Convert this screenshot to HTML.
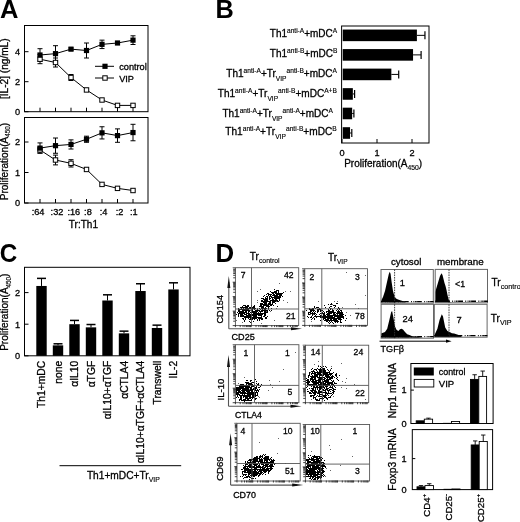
<!DOCTYPE html>
<html><head><meta charset="utf-8"><style>html,body{margin:0;padding:0;background:#fff;}svg{display:block;will-change:transform;}text{font-family:"Liberation Sans",sans-serif;stroke:#000;stroke-width:0.3px;}text[font-weight=bold]{stroke:none;}</style></head>
<body><svg width="520" height="522" viewBox="0 0 520 522" font-family="Liberation Sans, sans-serif" fill="#000"><text transform="translate(0.0 17.8) scale(1.0 1.0)" font-size="25.5" font-weight="bold">A</text>
<rect x="24.50" y="25.50" width="123.50" height="86.20" fill="none" stroke="#000" stroke-width="1"/>
<line x1="24.50" y1="111.70" x2="28.50" y2="111.70" stroke="#000" stroke-width="1" />
<text x="20.2" y="115.0" font-size="9.2" text-anchor="end" >0</text>
<line x1="24.50" y1="81.70" x2="28.50" y2="81.70" stroke="#000" stroke-width="1" />
<text x="20.2" y="85.0" font-size="9.2" text-anchor="end" >2</text>
<line x1="24.50" y1="51.70" x2="28.50" y2="51.70" stroke="#000" stroke-width="1" />
<text x="20.2" y="55.0" font-size="9.2" text-anchor="end" >4</text>
<line x1="40.00" y1="111.70" x2="40.00" y2="107.70" stroke="#000" stroke-width="1" />
<line x1="55.50" y1="111.70" x2="55.50" y2="107.70" stroke="#000" stroke-width="1" />
<line x1="71.00" y1="111.70" x2="71.00" y2="107.70" stroke="#000" stroke-width="1" />
<line x1="86.50" y1="111.70" x2="86.50" y2="107.70" stroke="#000" stroke-width="1" />
<line x1="102.00" y1="111.70" x2="102.00" y2="107.70" stroke="#000" stroke-width="1" />
<line x1="117.50" y1="111.70" x2="117.50" y2="107.70" stroke="#000" stroke-width="1" />
<line x1="133.00" y1="111.70" x2="133.00" y2="107.70" stroke="#000" stroke-width="1" />
<polyline fill="none" stroke="#000" stroke-width="1" points="40,59.20 55.5,62.50 71,77.50 86.5,89.95 102,100.00 117.5,105.40 133,105.40"/>
<polyline fill="none" stroke="#000" stroke-width="1" points="40,55.00 55.5,53.65 71,49.15 86.5,50.50 102,44.35 117.5,43.00 133,40.15"/>
<line x1="40.00" y1="63.70" x2="40.00" y2="54.70" stroke="#000" stroke-width="1" />
<line x1="37.50" y1="63.70" x2="42.50" y2="63.70" stroke="#000" stroke-width="1" />
<line x1="37.50" y1="54.70" x2="42.50" y2="54.70" stroke="#000" stroke-width="1" />
<line x1="55.50" y1="67.00" x2="55.50" y2="58.00" stroke="#000" stroke-width="1" />
<line x1="53.00" y1="67.00" x2="58.00" y2="67.00" stroke="#000" stroke-width="1" />
<line x1="53.00" y1="58.00" x2="58.00" y2="58.00" stroke="#000" stroke-width="1" />
<line x1="71.00" y1="80.50" x2="71.00" y2="74.50" stroke="#000" stroke-width="1" />
<line x1="68.50" y1="80.50" x2="73.50" y2="80.50" stroke="#000" stroke-width="1" />
<line x1="68.50" y1="74.50" x2="73.50" y2="74.50" stroke="#000" stroke-width="1" />
<line x1="40.00" y1="61.30" x2="40.00" y2="48.70" stroke="#000" stroke-width="1" />
<line x1="37.50" y1="61.30" x2="42.50" y2="61.30" stroke="#000" stroke-width="1" />
<line x1="37.50" y1="48.70" x2="42.50" y2="48.70" stroke="#000" stroke-width="1" />
<line x1="55.50" y1="61.60" x2="55.50" y2="45.70" stroke="#000" stroke-width="1" />
<line x1="53.00" y1="61.60" x2="58.00" y2="61.60" stroke="#000" stroke-width="1" />
<line x1="53.00" y1="45.70" x2="58.00" y2="45.70" stroke="#000" stroke-width="1" />
<line x1="71.00" y1="50.35" x2="71.00" y2="47.95" stroke="#000" stroke-width="1" />
<line x1="68.50" y1="50.35" x2="73.50" y2="50.35" stroke="#000" stroke-width="1" />
<line x1="68.50" y1="47.95" x2="73.50" y2="47.95" stroke="#000" stroke-width="1" />
<line x1="86.50" y1="58.00" x2="86.50" y2="43.00" stroke="#000" stroke-width="1" />
<line x1="84.00" y1="58.00" x2="89.00" y2="58.00" stroke="#000" stroke-width="1" />
<line x1="84.00" y1="43.00" x2="89.00" y2="43.00" stroke="#000" stroke-width="1" />
<line x1="102.00" y1="48.55" x2="102.00" y2="40.15" stroke="#000" stroke-width="1" />
<line x1="99.50" y1="48.55" x2="104.50" y2="48.55" stroke="#000" stroke-width="1" />
<line x1="99.50" y1="40.15" x2="104.50" y2="40.15" stroke="#000" stroke-width="1" />
<line x1="117.50" y1="44.20" x2="117.50" y2="41.80" stroke="#000" stroke-width="1" />
<line x1="115.00" y1="44.20" x2="120.00" y2="44.20" stroke="#000" stroke-width="1" />
<line x1="115.00" y1="41.80" x2="120.00" y2="41.80" stroke="#000" stroke-width="1" />
<line x1="133.00" y1="44.50" x2="133.00" y2="35.80" stroke="#000" stroke-width="1" />
<line x1="130.50" y1="44.50" x2="135.50" y2="44.50" stroke="#000" stroke-width="1" />
<line x1="130.50" y1="35.80" x2="135.50" y2="35.80" stroke="#000" stroke-width="1" />
<rect x="37.80" y="57.00" width="4.40" height="4.40" fill="#fff" stroke="#000" stroke-width="1"/>
<rect x="53.30" y="60.30" width="4.40" height="4.40" fill="#fff" stroke="#000" stroke-width="1"/>
<rect x="68.80" y="75.30" width="4.40" height="4.40" fill="#fff" stroke="#000" stroke-width="1"/>
<rect x="84.30" y="87.75" width="4.40" height="4.40" fill="#fff" stroke="#000" stroke-width="1"/>
<rect x="99.80" y="97.80" width="4.40" height="4.40" fill="#fff" stroke="#000" stroke-width="1"/>
<rect x="115.30" y="103.20" width="4.40" height="4.40" fill="#fff" stroke="#000" stroke-width="1"/>
<rect x="130.80" y="103.20" width="4.40" height="4.40" fill="#fff" stroke="#000" stroke-width="1"/>
<rect x="37.40" y="52.40" width="5.20" height="5.20" fill="#000"/>
<rect x="52.90" y="51.05" width="5.20" height="5.20" fill="#000"/>
<rect x="68.40" y="46.55" width="5.20" height="5.20" fill="#000"/>
<rect x="83.90" y="47.90" width="5.20" height="5.20" fill="#000"/>
<rect x="99.40" y="41.75" width="5.20" height="5.20" fill="#000"/>
<rect x="114.90" y="40.40" width="5.20" height="5.20" fill="#000"/>
<rect x="130.40" y="37.55" width="5.20" height="5.20" fill="#000"/>
<rect x="24.50" y="117.50" width="123.50" height="85.50" fill="none" stroke="#000" stroke-width="1"/>
<line x1="24.50" y1="203.00" x2="28.50" y2="203.00" stroke="#000" stroke-width="1" />
<text x="20.2" y="206.3" font-size="9.2" text-anchor="end" >0</text>
<line x1="24.50" y1="172.50" x2="28.50" y2="172.50" stroke="#000" stroke-width="1" />
<text x="20.2" y="175.8" font-size="9.2" text-anchor="end" >1</text>
<line x1="24.50" y1="142.00" x2="28.50" y2="142.00" stroke="#000" stroke-width="1" />
<text x="20.2" y="145.3" font-size="9.2" text-anchor="end" >2</text>
<line x1="40.00" y1="203.00" x2="40.00" y2="199.00" stroke="#000" stroke-width="1" />
<line x1="55.50" y1="203.00" x2="55.50" y2="199.00" stroke="#000" stroke-width="1" />
<line x1="71.00" y1="203.00" x2="71.00" y2="199.00" stroke="#000" stroke-width="1" />
<line x1="86.50" y1="203.00" x2="86.50" y2="199.00" stroke="#000" stroke-width="1" />
<line x1="102.00" y1="203.00" x2="102.00" y2="199.00" stroke="#000" stroke-width="1" />
<line x1="117.50" y1="203.00" x2="117.50" y2="199.00" stroke="#000" stroke-width="1" />
<line x1="133.00" y1="203.00" x2="133.00" y2="199.00" stroke="#000" stroke-width="1" />
<polyline fill="none" stroke="#000" stroke-width="1" points="40,149.93 55.5,160.00 71,163.35 86.5,169.45 102,184.40 117.5,188.36 133,190.50"/>
<polyline fill="none" stroke="#000" stroke-width="1" points="40,148.10 55.5,145.66 71,144.44 86.5,139.25 102,132.85 117.5,135.59 133,132.55"/>
<line x1="40.00" y1="152.98" x2="40.00" y2="146.88" stroke="#000" stroke-width="1" />
<line x1="37.50" y1="152.98" x2="42.50" y2="152.98" stroke="#000" stroke-width="1" />
<line x1="37.50" y1="146.88" x2="42.50" y2="146.88" stroke="#000" stroke-width="1" />
<line x1="55.50" y1="164.88" x2="55.50" y2="155.12" stroke="#000" stroke-width="1" />
<line x1="53.00" y1="164.88" x2="58.00" y2="164.88" stroke="#000" stroke-width="1" />
<line x1="53.00" y1="155.12" x2="58.00" y2="155.12" stroke="#000" stroke-width="1" />
<line x1="71.00" y1="167.01" x2="71.00" y2="159.69" stroke="#000" stroke-width="1" />
<line x1="68.50" y1="167.01" x2="73.50" y2="167.01" stroke="#000" stroke-width="1" />
<line x1="68.50" y1="159.69" x2="73.50" y2="159.69" stroke="#000" stroke-width="1" />
<line x1="40.00" y1="153.28" x2="40.00" y2="142.91" stroke="#000" stroke-width="1" />
<line x1="37.50" y1="153.28" x2="42.50" y2="153.28" stroke="#000" stroke-width="1" />
<line x1="37.50" y1="142.91" x2="42.50" y2="142.91" stroke="#000" stroke-width="1" />
<line x1="55.50" y1="153.28" x2="55.50" y2="138.03" stroke="#000" stroke-width="1" />
<line x1="53.00" y1="153.28" x2="58.00" y2="153.28" stroke="#000" stroke-width="1" />
<line x1="53.00" y1="138.03" x2="58.00" y2="138.03" stroke="#000" stroke-width="1" />
<line x1="71.00" y1="149.01" x2="71.00" y2="139.87" stroke="#000" stroke-width="1" />
<line x1="68.50" y1="149.01" x2="73.50" y2="149.01" stroke="#000" stroke-width="1" />
<line x1="68.50" y1="139.87" x2="73.50" y2="139.87" stroke="#000" stroke-width="1" />
<line x1="86.50" y1="142.31" x2="86.50" y2="136.20" stroke="#000" stroke-width="1" />
<line x1="84.00" y1="142.31" x2="89.00" y2="142.31" stroke="#000" stroke-width="1" />
<line x1="84.00" y1="136.20" x2="89.00" y2="136.20" stroke="#000" stroke-width="1" />
<line x1="102.00" y1="138.95" x2="102.00" y2="126.75" stroke="#000" stroke-width="1" />
<line x1="99.50" y1="138.95" x2="104.50" y2="138.95" stroke="#000" stroke-width="1" />
<line x1="99.50" y1="126.75" x2="104.50" y2="126.75" stroke="#000" stroke-width="1" />
<line x1="117.50" y1="142.31" x2="117.50" y2="128.88" stroke="#000" stroke-width="1" />
<line x1="115.00" y1="142.31" x2="120.00" y2="142.31" stroke="#000" stroke-width="1" />
<line x1="115.00" y1="128.88" x2="120.00" y2="128.88" stroke="#000" stroke-width="1" />
<line x1="133.00" y1="140.78" x2="133.00" y2="124.31" stroke="#000" stroke-width="1" />
<line x1="130.50" y1="140.78" x2="135.50" y2="140.78" stroke="#000" stroke-width="1" />
<line x1="130.50" y1="124.31" x2="135.50" y2="124.31" stroke="#000" stroke-width="1" />
<rect x="37.80" y="147.73" width="4.40" height="4.40" fill="#fff" stroke="#000" stroke-width="1"/>
<rect x="53.30" y="157.80" width="4.40" height="4.40" fill="#fff" stroke="#000" stroke-width="1"/>
<rect x="68.80" y="161.15" width="4.40" height="4.40" fill="#fff" stroke="#000" stroke-width="1"/>
<rect x="84.30" y="167.25" width="4.40" height="4.40" fill="#fff" stroke="#000" stroke-width="1"/>
<rect x="99.80" y="182.20" width="4.40" height="4.40" fill="#fff" stroke="#000" stroke-width="1"/>
<rect x="115.30" y="186.16" width="4.40" height="4.40" fill="#fff" stroke="#000" stroke-width="1"/>
<rect x="130.80" y="188.30" width="4.40" height="4.40" fill="#fff" stroke="#000" stroke-width="1"/>
<rect x="37.40" y="145.50" width="5.20" height="5.20" fill="#000"/>
<rect x="52.90" y="143.06" width="5.20" height="5.20" fill="#000"/>
<rect x="68.40" y="141.84" width="5.20" height="5.20" fill="#000"/>
<rect x="83.90" y="136.66" width="5.20" height="5.20" fill="#000"/>
<rect x="99.40" y="130.25" width="5.20" height="5.20" fill="#000"/>
<rect x="114.90" y="133.00" width="5.20" height="5.20" fill="#000"/>
<rect x="130.40" y="129.95" width="5.20" height="5.20" fill="#000"/>
<line x1="95.00" y1="66.30" x2="114.00" y2="66.30" stroke="#000" stroke-width="1" />
<rect x="102.40" y="63.70" width="5.20" height="5.20" fill="#000"/>
<text x="119.2" y="69.8" font-size="9.2" >control</text>
<line x1="95.00" y1="78.00" x2="114.00" y2="78.00" stroke="#000" stroke-width="1" />
<rect x="102.80" y="75.80" width="4.40" height="4.40" fill="#fff" stroke="#000" stroke-width="1"/>
<text x="119.2" y="81.5" font-size="9.2" >VIP</text>
<text x="31.7" y="214.7" font-size="9.2" >:64</text>
<text x="50.6" y="214.7" font-size="9.2" >:32</text>
<text x="67.4" y="214.7" font-size="9.2" >:16</text>
<text x="84.10000000000001" y="214.7" font-size="9.2" >:8</text>
<text x="99.7" y="214.7" font-size="9.2" >:4</text>
<text x="115.8" y="214.7" font-size="9.2" >:2</text>
<text x="129.89999999999998" y="214.7" font-size="9.2" >:1</text>
<text x="83.4" y="227.5" font-size="10" text-anchor="middle" >Tr:Th1</text>
<text x="7.8" y="68.7" font-size="10.1" text-anchor="middle" transform="rotate(-90 7.8 68.7)" >[IL-2] (ng/mL)</text>
<text x="7.8" y="161.6" font-size="10" text-anchor="middle" transform="rotate(-90 7.8 161.6)" ><tspan font-size="10">Proliferation(A</tspan><tspan font-size="6.3" dy="2.6" stroke-width="0.15">450</tspan><tspan font-size="10" dy="-2.6">)</tspan></text>
<text transform="translate(215.6 17.7) scale(1.0 1.0)" font-size="25.3" font-weight="bold">B</text>
<rect x="341.60" y="26.00" width="87.40" height="117.00" fill="none" stroke="#000" stroke-width="1"/>
<rect x="342.70" y="29.55" width="74.20" height="11.60" fill="#000"/>
<line x1="416.90" y1="35.35" x2="424.95" y2="35.35" stroke="#000" stroke-width="1" />
<line x1="424.95" y1="31.35" x2="424.95" y2="39.35" stroke="#000" stroke-width="1.2" />
<rect x="342.70" y="49.08" width="70.35" height="11.60" fill="#000"/>
<line x1="413.05" y1="54.88" x2="421.10" y2="54.88" stroke="#000" stroke-width="1" />
<line x1="421.10" y1="50.88" x2="421.10" y2="58.88" stroke="#000" stroke-width="1.2" />
<rect x="342.70" y="68.61" width="48.65" height="11.60" fill="#000"/>
<line x1="391.35" y1="74.41" x2="398.70" y2="74.41" stroke="#000" stroke-width="1" />
<line x1="398.70" y1="70.41" x2="398.70" y2="78.41" stroke="#000" stroke-width="1.2" />
<rect x="342.70" y="88.14" width="10.15" height="11.60" fill="#000"/>
<line x1="352.85" y1="93.94" x2="354.60" y2="93.94" stroke="#000" stroke-width="1" />
<line x1="354.60" y1="89.94" x2="354.60" y2="97.94" stroke="#000" stroke-width="1.2" />
<rect x="342.70" y="107.67" width="9.45" height="11.60" fill="#000"/>
<line x1="352.15" y1="113.47" x2="353.90" y2="113.47" stroke="#000" stroke-width="1" />
<line x1="353.90" y1="109.47" x2="353.90" y2="117.47" stroke="#000" stroke-width="1.2" />
<rect x="342.70" y="127.20" width="7.35" height="11.60" fill="#000"/>
<line x1="350.05" y1="133.00" x2="351.80" y2="133.00" stroke="#000" stroke-width="1" />
<line x1="351.80" y1="129.00" x2="351.80" y2="137.00" stroke="#000" stroke-width="1.2" />
<line x1="342.00" y1="143.00" x2="342.00" y2="139.00" stroke="#000" stroke-width="1" />
<text x="342" y="155.8" font-size="9.2" text-anchor="middle" >0</text>
<line x1="377.00" y1="143.00" x2="377.00" y2="139.00" stroke="#000" stroke-width="1" />
<text x="377" y="155.8" font-size="9.2" text-anchor="middle" >1</text>
<line x1="412.00" y1="143.00" x2="412.00" y2="139.00" stroke="#000" stroke-width="1" />
<text x="412" y="155.8" font-size="9.2" text-anchor="middle" >2</text>
<text x="344.2" y="167" font-size="10" textLength="78" lengthAdjust="spacingAndGlyphs"><tspan font-size="10">Proliferation(A</tspan><tspan font-size="6.8" dy="2.6" stroke-width="0.15">450</tspan><tspan font-size="10" dy="-2.6">)</tspan></text>
<text x="269.8" y="36.8" font-size="10" textLength="67.4" lengthAdjust="spacingAndGlyphs"><tspan font-size="10">Th1</tspan><tspan font-size="6.6" dy="-4.0" stroke-width="0.15">anti-A</tspan><tspan font-size="10" dy="4.0">+mDC</tspan><tspan font-size="6.6" dy="-4.0" stroke-width="0.15">A</tspan></text>
<text x="269.8" y="56.8" font-size="10" textLength="67.6" lengthAdjust="spacingAndGlyphs"><tspan font-size="10">Th1</tspan><tspan font-size="6.6" dy="-4.0" stroke-width="0.15">anti-B</tspan><tspan font-size="10" dy="4.0">+mDC</tspan><tspan font-size="6.6" dy="-4.0" stroke-width="0.15">B</tspan></text>
<text x="226.3" y="76.9" font-size="10" textLength="110.7" lengthAdjust="spacingAndGlyphs"><tspan font-size="10">Th1</tspan><tspan font-size="6.6" dy="-4.0" stroke-width="0.15">anti-A</tspan><tspan font-size="10" dy="4.0">+Tr</tspan><tspan font-size="6.6" dy="3.6" stroke-width="0.15">VIP</tspan><tspan font-size="6.6" dy="-7.6" stroke-width="0.15">anti-B</tspan><tspan font-size="10" dy="4.0">+mDC</tspan><tspan font-size="6.6" dy="-4.0" stroke-width="0.15">A</tspan></text>
<text x="217.8" y="96.9" font-size="10" textLength="119.1" lengthAdjust="spacingAndGlyphs"><tspan font-size="10">Th1</tspan><tspan font-size="6.6" dy="-4.0" stroke-width="0.15">anti-A</tspan><tspan font-size="10" dy="4.0">+Tr</tspan><tspan font-size="6.6" dy="3.6" stroke-width="0.15">VIP</tspan><tspan font-size="6.6" dy="-7.6" stroke-width="0.15">anti-B</tspan><tspan font-size="10" dy="4.0">+mDC</tspan><tspan font-size="6.6" dy="-4.0" stroke-width="0.15">A+B</tspan></text>
<text x="222.4" y="117.3" font-size="10" textLength="110.5" lengthAdjust="spacingAndGlyphs"><tspan font-size="10">Th1</tspan><tspan font-size="6.6" dy="-4.0" stroke-width="0.15">anti-A</tspan><tspan font-size="10" dy="4.0">+Tr</tspan><tspan font-size="6.6" dy="3.6" stroke-width="0.15">VIP</tspan><tspan font-size="6.6" dy="-7.6" stroke-width="0.15">anti-A</tspan><tspan font-size="10" dy="4.0">+mDC</tspan><tspan font-size="6.6" dy="-4.0" stroke-width="0.15">A</tspan></text>
<text x="225.3" y="135.3" font-size="10" textLength="111.4" lengthAdjust="spacingAndGlyphs"><tspan font-size="10">Th1</tspan><tspan font-size="6.6" dy="-4.0" stroke-width="0.15">anti-A</tspan><tspan font-size="10" dy="4.0">+Tr</tspan><tspan font-size="6.6" dy="3.6" stroke-width="0.15">VIP</tspan><tspan font-size="6.6" dy="-7.6" stroke-width="0.15">anti-B</tspan><tspan font-size="10" dy="4.0">+mDC</tspan><tspan font-size="6.6" dy="-4.0" stroke-width="0.15">B</tspan></text>
<text transform="translate(-0.3 261.8) scale(0.95 1.0)" font-size="25.5" font-weight="bold">C</text>
<rect x="24.50" y="267.30" width="165.50" height="88.50" fill="none" stroke="#000" stroke-width="1"/>
<line x1="24.50" y1="355.80" x2="28.50" y2="355.80" stroke="#000" stroke-width="1" />
<text x="20.2" y="359.1" font-size="9.2" text-anchor="end" >0</text>
<line x1="24.50" y1="324.20" x2="28.50" y2="324.20" stroke="#000" stroke-width="1" />
<text x="20.2" y="327.5" font-size="9.2" text-anchor="end" >1</text>
<line x1="24.50" y1="292.60" x2="28.50" y2="292.60" stroke="#000" stroke-width="1" />
<text x="20.2" y="295.90000000000003" font-size="9.2" text-anchor="end" >2</text>
<rect x="36.30" y="285.96" width="10.40" height="69.84" fill="#000"/>
<line x1="41.50" y1="285.96" x2="41.50" y2="278.38" stroke="#000" stroke-width="1" />
<line x1="37.00" y1="278.38" x2="46.00" y2="278.38" stroke="#000" stroke-width="1.5" />
<text x="45.4" y="360.8" font-size="10.3" text-anchor="end" transform="rotate(-90 45.4 360.8)" >Th1+mDC</text>
<rect x="52.80" y="345.37" width="10.40" height="10.43" fill="#000"/>
<line x1="58.00" y1="345.37" x2="58.00" y2="343.79" stroke="#000" stroke-width="1" />
<line x1="53.50" y1="343.79" x2="62.50" y2="343.79" stroke="#000" stroke-width="1.5" />
<text x="61.9" y="360.8" font-size="10.3" text-anchor="end" transform="rotate(-90 61.9 360.8)" >none</text>
<rect x="69.30" y="324.20" width="10.40" height="31.60" fill="#000"/>
<line x1="74.50" y1="324.20" x2="74.50" y2="320.41" stroke="#000" stroke-width="1" />
<line x1="70.00" y1="320.41" x2="79.00" y2="320.41" stroke="#000" stroke-width="1.5" />
<text x="78.4" y="360.8" font-size="10.3" text-anchor="end" transform="rotate(-90 78.4 360.8)" >&#945;IL10</text>
<rect x="85.80" y="327.36" width="10.40" height="28.44" fill="#000"/>
<line x1="91.00" y1="327.36" x2="91.00" y2="324.52" stroke="#000" stroke-width="1" />
<line x1="86.50" y1="324.52" x2="95.50" y2="324.52" stroke="#000" stroke-width="1.5" />
<text x="94.9" y="360.8" font-size="10.3" text-anchor="end" transform="rotate(-90 94.9 360.8)" >&#945;TGF</text>
<rect x="102.30" y="300.50" width="10.40" height="55.30" fill="#000"/>
<line x1="107.50" y1="300.50" x2="107.50" y2="294.81" stroke="#000" stroke-width="1" />
<line x1="103.00" y1="294.81" x2="112.00" y2="294.81" stroke="#000" stroke-width="1.5" />
<text x="111.4" y="360.8" font-size="10.3" text-anchor="end" transform="rotate(-90 111.4 360.8)" >&#945;IL10+&#945;TGF</text>
<rect x="118.80" y="333.36" width="10.40" height="22.44" fill="#000"/>
<line x1="124.00" y1="333.36" x2="124.00" y2="331.15" stroke="#000" stroke-width="1" />
<line x1="119.50" y1="331.15" x2="128.50" y2="331.15" stroke="#000" stroke-width="1.5" />
<text x="127.9" y="360.8" font-size="10.3" text-anchor="end" transform="rotate(-90 127.9 360.8)" >&#945;CTLA4</text>
<rect x="135.30" y="291.02" width="10.40" height="64.78" fill="#000"/>
<line x1="140.50" y1="291.02" x2="140.50" y2="283.75" stroke="#000" stroke-width="1" />
<line x1="136.00" y1="283.75" x2="145.00" y2="283.75" stroke="#000" stroke-width="1.5" />
<text x="144.4" y="360.8" font-size="10.3" text-anchor="end" transform="rotate(-90 144.4 360.8)" >&#945;IL10+&#945;TGF+&#945;CTLA4</text>
<rect x="151.80" y="327.99" width="10.40" height="27.81" fill="#000"/>
<line x1="157.00" y1="327.99" x2="157.00" y2="325.15" stroke="#000" stroke-width="1" />
<line x1="152.50" y1="325.15" x2="161.50" y2="325.15" stroke="#000" stroke-width="1.5" />
<text x="160.9" y="360.8" font-size="10.3" text-anchor="end" transform="rotate(-90 160.9 360.8)" >Transwell</text>
<rect x="168.30" y="289.44" width="10.40" height="66.36" fill="#000"/>
<line x1="173.50" y1="289.44" x2="173.50" y2="282.80" stroke="#000" stroke-width="1" />
<line x1="169.00" y1="282.80" x2="178.00" y2="282.80" stroke="#000" stroke-width="1.5" />
<text x="177.4" y="360.8" font-size="10.3" text-anchor="end" transform="rotate(-90 177.4 360.8)" >IL-2</text>
<text x="8.4" y="312.2" font-size="10" text-anchor="middle" transform="rotate(-90 8.4 312.2)" ><tspan font-size="10">Proliferation(A</tspan><tspan font-size="6.3" dy="2.6" stroke-width="0.15">450</tspan><tspan font-size="10" dy="-2.6">)</tspan></text>
<line x1="59.50" y1="465.70" x2="181.20" y2="465.70" stroke="#000" stroke-width="1" />
<text x="86.9" y="478.7" font-size="10" textLength="73" lengthAdjust="spacingAndGlyphs"><tspan font-size="10">Th1+mDC+Tr</tspan><tspan font-size="6.8" dy="3.2" stroke-width="0.15">VIP</tspan></text>
<text transform="translate(215.5 261.8) scale(1.0 1.0)" font-size="25.8" font-weight="bold">D</text>
<text x="249.8" y="259.5" font-size="9.7"><tspan font-size="10">Tr</tspan><tspan font-size="6.9" dy="3.0" stroke-width="0.15">control</tspan></text>
<text x="327.9" y="260.5" font-size="9.5"><tspan font-size="10">Tr</tspan><tspan font-size="6.6" dy="3.1" stroke-width="0.15">VIP</tspan></text>
<path fill="#666" d="M236 320h1v1h-1zM242 322h1v1h-1zM250 310h1v1h-1zM257 291h1v1h-1zM257 300h1v1h-1zM257 302h1v1h-1zM257 308h1v1h-1zM260 289h1v1h-1zM261 323h1v1h-1zM265 304h1v1h-1zM265 311h1v1h-1zM265 312h1v1h-1zM266 302h1v1h-1zM266 311h1v1h-1zM267 304h1v1h-1zM268 304h1v1h-1zM268 306h1v1h-1zM268 309h1v1h-1zM270 311h1v1h-1zM272 302h1v1h-1zM274 301h1v1h-1zM274 320h1v1h-1zM276 295h1v1h-1zM276 301h1v1h-1zM276 308h1v1h-1zM279 283h1v1h-1zM283 300h1v1h-1zM285 291h1v1h-1zM287 302h1v1h-1zM290 291h1v1h-1z"/>
<path fill="#000" d="M236 314h1v1h-1zM237 312h1v1h-1zM238 308h1v1h-1zM238 309h1v1h-1zM238 310h1v1h-1zM238 311h1v1h-1zM238 313h1v1h-1zM238 314h1v1h-1zM238 315h1v1h-1zM238 316h1v1h-1zM239 309h1v1h-1zM239 310h1v1h-1zM239 311h1v1h-1zM239 312h1v1h-1zM239 313h1v1h-1zM240 307h1v1h-1zM240 309h1v1h-1zM240 311h1v1h-1zM240 312h1v1h-1zM240 313h1v1h-1zM240 314h1v1h-1zM240 315h1v1h-1zM240 316h1v1h-1zM241 307h1v1h-1zM241 308h1v1h-1zM241 309h1v1h-1zM241 311h1v1h-1zM241 312h1v1h-1zM241 313h1v1h-1zM241 314h1v1h-1zM241 315h1v1h-1zM241 316h1v1h-1zM242 306h1v1h-1zM242 307h1v1h-1zM242 309h1v1h-1zM242 310h1v1h-1zM242 311h1v1h-1zM242 312h1v1h-1zM242 313h1v1h-1zM242 314h1v1h-1zM242 315h1v1h-1zM242 316h1v1h-1zM242 318h1v1h-1zM243 305h1v1h-1zM243 307h1v1h-1zM243 308h1v1h-1zM243 309h1v1h-1zM243 310h1v1h-1zM243 311h1v1h-1zM243 312h1v1h-1zM243 313h1v1h-1zM243 315h1v1h-1zM243 316h1v1h-1zM243 318h1v1h-1zM243 319h1v1h-1zM244 305h1v1h-1zM244 307h1v1h-1zM244 309h1v1h-1zM244 310h1v1h-1zM244 312h1v1h-1zM244 313h1v1h-1zM244 314h1v1h-1zM244 316h1v1h-1zM244 317h1v1h-1zM244 320h1v1h-1zM244 321h1v1h-1zM245 305h1v1h-1zM245 306h1v1h-1zM245 307h1v1h-1zM245 308h1v1h-1zM245 309h1v1h-1zM245 310h1v1h-1zM245 311h1v1h-1zM245 312h1v1h-1zM245 314h1v1h-1zM245 316h1v1h-1zM245 317h1v1h-1zM245 318h1v1h-1zM245 319h1v1h-1zM246 306h1v1h-1zM246 307h1v1h-1zM246 308h1v1h-1zM246 309h1v1h-1zM246 310h1v1h-1zM246 311h1v1h-1zM246 312h1v1h-1zM246 313h1v1h-1zM246 314h1v1h-1zM246 315h1v1h-1zM246 316h1v1h-1zM246 317h1v1h-1zM247 305h1v1h-1zM247 306h1v1h-1zM247 307h1v1h-1zM247 308h1v1h-1zM247 309h1v1h-1zM247 310h1v1h-1zM247 313h1v1h-1zM247 315h1v1h-1zM247 316h1v1h-1zM247 317h1v1h-1zM248 305h1v1h-1zM248 306h1v1h-1zM248 308h1v1h-1zM248 309h1v1h-1zM248 310h1v1h-1zM248 311h1v1h-1zM248 312h1v1h-1zM248 313h1v1h-1zM248 314h1v1h-1zM248 315h1v1h-1zM248 316h1v1h-1zM248 317h1v1h-1zM248 318h1v1h-1zM249 307h1v1h-1zM249 308h1v1h-1zM249 310h1v1h-1zM249 311h1v1h-1zM249 313h1v1h-1zM249 314h1v1h-1zM249 315h1v1h-1zM249 316h1v1h-1zM249 317h1v1h-1zM249 319h1v1h-1zM249 321h1v1h-1zM250 307h1v1h-1zM250 308h1v1h-1zM250 312h1v1h-1zM250 314h1v1h-1zM250 315h1v1h-1zM250 316h1v1h-1zM250 317h1v1h-1zM250 318h1v1h-1zM250 319h1v1h-1zM250 322h1v1h-1zM251 305h1v1h-1zM251 306h1v1h-1zM251 308h1v1h-1zM251 309h1v1h-1zM251 310h1v1h-1zM251 312h1v1h-1zM251 313h1v1h-1zM251 314h1v1h-1zM251 315h1v1h-1zM251 316h1v1h-1zM251 317h1v1h-1zM251 318h1v1h-1zM251 319h1v1h-1zM252 307h1v1h-1zM252 308h1v1h-1zM252 309h1v1h-1zM252 310h1v1h-1zM252 311h1v1h-1zM252 312h1v1h-1zM252 314h1v1h-1zM252 315h1v1h-1zM252 317h1v1h-1zM252 318h1v1h-1zM252 319h1v1h-1zM253 306h1v1h-1zM253 307h1v1h-1zM253 308h1v1h-1zM253 311h1v1h-1zM253 312h1v1h-1zM253 313h1v1h-1zM253 314h1v1h-1zM253 315h1v1h-1zM253 316h1v1h-1zM253 317h1v1h-1zM253 318h1v1h-1zM253 321h1v1h-1zM254 305h1v1h-1zM254 306h1v1h-1zM254 307h1v1h-1zM254 308h1v1h-1zM254 309h1v1h-1zM254 311h1v1h-1zM254 312h1v1h-1zM254 313h1v1h-1zM254 314h1v1h-1zM254 315h1v1h-1zM254 316h1v1h-1zM254 317h1v1h-1zM254 318h1v1h-1zM254 319h1v1h-1zM255 308h1v1h-1zM255 310h1v1h-1zM255 311h1v1h-1zM255 312h1v1h-1zM255 313h1v1h-1zM255 314h1v1h-1zM255 315h1v1h-1zM255 316h1v1h-1zM255 317h1v1h-1zM255 318h1v1h-1zM256 310h1v1h-1zM256 311h1v1h-1zM256 312h1v1h-1zM256 313h1v1h-1zM256 314h1v1h-1zM256 315h1v1h-1zM256 316h1v1h-1zM256 317h1v1h-1zM256 318h1v1h-1zM257 309h1v1h-1zM257 310h1v1h-1zM257 311h1v1h-1zM257 313h1v1h-1zM257 314h1v1h-1zM257 317h1v1h-1zM257 319h1v1h-1zM257 320h1v1h-1zM258 310h1v1h-1zM258 312h1v1h-1zM258 313h1v1h-1zM258 314h1v1h-1zM258 315h1v1h-1zM258 317h1v1h-1zM258 318h1v1h-1zM259 306h1v1h-1zM259 308h1v1h-1zM259 310h1v1h-1zM259 311h1v1h-1zM259 313h1v1h-1zM259 314h1v1h-1zM259 315h1v1h-1zM259 317h1v1h-1zM259 318h1v1h-1zM259 319h1v1h-1zM259 320h1v1h-1zM260 303h1v1h-1zM260 304h1v1h-1zM260 305h1v1h-1zM260 306h1v1h-1zM260 309h1v1h-1zM260 311h1v1h-1zM260 312h1v1h-1zM260 313h1v1h-1zM260 314h1v1h-1zM260 315h1v1h-1zM260 317h1v1h-1zM260 318h1v1h-1zM261 298h1v1h-1zM261 300h1v1h-1zM261 301h1v1h-1zM261 303h1v1h-1zM261 304h1v1h-1zM261 305h1v1h-1zM261 306h1v1h-1zM261 307h1v1h-1zM261 308h1v1h-1zM261 310h1v1h-1zM261 311h1v1h-1zM261 313h1v1h-1zM261 314h1v1h-1zM261 315h1v1h-1zM261 316h1v1h-1zM261 317h1v1h-1zM261 318h1v1h-1zM261 319h1v1h-1zM262 298h1v1h-1zM262 300h1v1h-1zM262 301h1v1h-1zM262 303h1v1h-1zM262 304h1v1h-1zM262 306h1v1h-1zM262 307h1v1h-1zM262 308h1v1h-1zM262 309h1v1h-1zM262 310h1v1h-1zM262 311h1v1h-1zM262 313h1v1h-1zM262 314h1v1h-1zM262 318h1v1h-1zM262 319h1v1h-1zM263 296h1v1h-1zM263 298h1v1h-1zM263 299h1v1h-1zM263 301h1v1h-1zM263 302h1v1h-1zM263 304h1v1h-1zM263 305h1v1h-1zM263 306h1v1h-1zM263 307h1v1h-1zM263 308h1v1h-1zM263 310h1v1h-1zM263 313h1v1h-1zM263 316h1v1h-1zM264 295h1v1h-1zM264 299h1v1h-1zM264 300h1v1h-1zM264 301h1v1h-1zM264 302h1v1h-1zM264 303h1v1h-1zM264 304h1v1h-1zM264 305h1v1h-1zM264 308h1v1h-1zM264 309h1v1h-1zM264 310h1v1h-1zM264 311h1v1h-1zM264 312h1v1h-1zM264 313h1v1h-1zM264 314h1v1h-1zM264 315h1v1h-1zM264 316h1v1h-1zM265 297h1v1h-1zM265 298h1v1h-1zM265 299h1v1h-1zM265 300h1v1h-1zM265 301h1v1h-1zM265 302h1v1h-1zM265 303h1v1h-1zM265 304h1v1h-1zM265 305h1v1h-1zM265 307h1v1h-1zM265 308h1v1h-1zM265 309h1v1h-1zM265 310h1v1h-1zM265 311h1v1h-1zM265 312h1v1h-1zM265 313h1v1h-1zM265 314h1v1h-1zM265 315h1v1h-1zM265 317h1v1h-1zM265 318h1v1h-1zM266 294h1v1h-1zM266 296h1v1h-1zM266 298h1v1h-1zM266 299h1v1h-1zM266 300h1v1h-1zM266 301h1v1h-1zM266 302h1v1h-1zM266 303h1v1h-1zM266 304h1v1h-1zM266 305h1v1h-1zM266 306h1v1h-1zM266 308h1v1h-1zM266 310h1v1h-1zM266 312h1v1h-1zM266 317h1v1h-1zM266 318h1v1h-1zM267 293h1v1h-1zM267 296h1v1h-1zM267 297h1v1h-1zM267 298h1v1h-1zM267 299h1v1h-1zM267 300h1v1h-1zM267 301h1v1h-1zM267 305h1v1h-1zM267 306h1v1h-1zM267 310h1v1h-1zM267 311h1v1h-1zM267 312h1v1h-1zM267 316h1v1h-1zM268 293h1v1h-1zM268 294h1v1h-1zM268 295h1v1h-1zM268 301h1v1h-1zM268 303h1v1h-1zM268 304h1v1h-1zM268 305h1v1h-1zM268 306h1v1h-1zM268 307h1v1h-1zM268 308h1v1h-1zM269 294h1v1h-1zM269 296h1v1h-1zM269 297h1v1h-1zM269 298h1v1h-1zM269 299h1v1h-1zM269 301h1v1h-1zM269 302h1v1h-1zM269 303h1v1h-1zM269 304h1v1h-1zM269 306h1v1h-1zM269 310h1v1h-1zM270 291h1v1h-1zM270 294h1v1h-1zM270 295h1v1h-1zM270 296h1v1h-1zM270 298h1v1h-1zM270 300h1v1h-1zM270 301h1v1h-1zM270 302h1v1h-1zM270 303h1v1h-1zM270 304h1v1h-1zM270 305h1v1h-1zM271 292h1v1h-1zM271 294h1v1h-1zM271 296h1v1h-1zM271 297h1v1h-1zM271 300h1v1h-1zM271 304h1v1h-1zM271 305h1v1h-1zM271 308h1v1h-1zM271 310h1v1h-1zM272 292h1v1h-1zM272 293h1v1h-1zM272 295h1v1h-1zM272 297h1v1h-1zM272 298h1v1h-1zM272 299h1v1h-1zM272 300h1v1h-1zM272 301h1v1h-1zM272 302h1v1h-1zM272 303h1v1h-1zM272 304h1v1h-1zM273 292h1v1h-1zM273 293h1v1h-1zM273 294h1v1h-1zM273 295h1v1h-1zM273 297h1v1h-1zM273 299h1v1h-1zM273 300h1v1h-1zM273 301h1v1h-1zM273 302h1v1h-1zM273 305h1v1h-1zM274 289h1v1h-1zM274 291h1v1h-1zM274 292h1v1h-1zM274 294h1v1h-1zM274 295h1v1h-1zM274 296h1v1h-1zM274 297h1v1h-1zM274 298h1v1h-1zM274 300h1v1h-1zM274 301h1v1h-1zM274 302h1v1h-1zM275 291h1v1h-1zM275 292h1v1h-1zM275 293h1v1h-1zM275 295h1v1h-1zM275 296h1v1h-1zM275 297h1v1h-1zM275 298h1v1h-1zM275 299h1v1h-1zM275 300h1v1h-1zM275 301h1v1h-1zM275 303h1v1h-1zM276 290h1v1h-1zM276 291h1v1h-1zM276 292h1v1h-1zM276 293h1v1h-1zM276 294h1v1h-1zM276 295h1v1h-1zM276 296h1v1h-1zM276 297h1v1h-1zM276 298h1v1h-1zM276 299h1v1h-1zM276 300h1v1h-1zM277 290h1v1h-1zM277 293h1v1h-1zM277 294h1v1h-1zM277 295h1v1h-1zM277 296h1v1h-1zM277 297h1v1h-1zM277 298h1v1h-1zM277 300h1v1h-1zM277 301h1v1h-1zM277 306h1v1h-1zM278 290h1v1h-1zM278 291h1v1h-1zM278 292h1v1h-1zM278 293h1v1h-1zM278 294h1v1h-1zM278 296h1v1h-1zM278 297h1v1h-1zM278 298h1v1h-1zM278 301h1v1h-1zM279 293h1v1h-1zM279 294h1v1h-1zM279 295h1v1h-1zM279 296h1v1h-1zM279 297h1v1h-1zM279 298h1v1h-1zM279 299h1v1h-1zM279 300h1v1h-1zM280 293h1v1h-1zM280 294h1v1h-1zM280 295h1v1h-1zM280 296h1v1h-1zM280 297h1v1h-1zM281 293h1v1h-1zM281 294h1v1h-1zM281 295h1v1h-1zM282 293h1v1h-1zM282 296h1v1h-1zM283 292h1v1h-1z"/>
<rect x="235.4" y="267.7" width="63.29999999999998" height="57.900000000000034" fill="none" stroke="#555" stroke-width="0.9"/>
<line x1="232.70" y1="267.70" x2="235.40" y2="267.70" stroke="#555" stroke-width="0.9" />
<line x1="251.50" y1="267.70" x2="251.50" y2="325.60" stroke="#555" stroke-width="0.9" />
<line x1="235.40" y1="309.00" x2="298.70" y2="309.00" stroke="#555" stroke-width="0.9" />
<path fill="none" stroke="#222" stroke-width="0.85" d="M232.7 325.6h2.7M235.4 325.1v2.0M233.2 321.2h2.2M240.2 325.1v2.0M233.2 318.7h2.2M243.0 325.1v2.0M233.2 316.9h2.2M244.9 325.1v2.0M233.2 315.5h2.2M246.5 325.1v2.0M233.2 314.3h2.2M247.7 325.1v2.0M233.2 313.4h2.2M248.8 325.1v2.0M233.2 312.5h2.2M249.7 325.1v2.0M233.2 311.8h2.2M250.5 325.1v2.0M232.7 311.1h2.7M251.2 325.1v2.0M233.2 306.8h2.2M256.0 325.1v2.0M233.2 304.2h2.2M258.8 325.1v2.0M233.2 302.4h2.2M260.8 325.1v2.0M233.2 301.0h2.2M262.3 325.1v2.0M233.2 299.9h2.2M263.5 325.1v2.0M233.2 298.9h2.2M264.6 325.1v2.0M233.2 298.1h2.2M265.5 325.1v2.0M233.2 297.3h2.2M266.3 325.1v2.0M232.7 296.6h2.7M267.1 325.1v2.0M233.2 292.3h2.2M271.8 325.1v2.0M233.2 289.7h2.2M274.6 325.1v2.0M233.2 287.9h2.2M276.6 325.1v2.0M233.2 286.5h2.2M278.1 325.1v2.0M233.2 285.4h2.2M279.4 325.1v2.0M233.2 284.4h2.2M280.4 325.1v2.0M233.2 283.6h2.2M281.3 325.1v2.0M233.2 282.8h2.2M282.2 325.1v2.0M232.7 282.2h2.7M282.9 325.1v2.0M233.2 277.8h2.2M287.6 325.1v2.0M233.2 275.3h2.2M290.4 325.1v2.0M233.2 273.5h2.2M292.4 325.1v2.0M233.2 272.1h2.2M293.9 325.1v2.0M233.2 270.9h2.2M295.2 325.1v2.0M233.2 269.9h2.2M296.2 325.1v2.0M233.2 269.1h2.2M297.2 325.1v2.0"/>
<text x="243.2" y="277.8" font-size="8.6" text-anchor="middle" >7</text>
<text x="288.8" y="277.8" font-size="8.6" text-anchor="middle" >42</text>
<text x="290.8" y="318.8" font-size="8.6" text-anchor="middle" >21</text>
<path fill="#666" d="M310 314h1v1h-1zM311 321h1v1h-1zM313 314h1v1h-1zM318 301h1v1h-1zM326 311h1v1h-1zM326 317h1v1h-1zM330 311h1v1h-1zM331 308h1v1h-1zM331 320h1v1h-1zM332 304h1v1h-1zM333 311h1v1h-1zM333 317h1v1h-1zM334 301h1v1h-1zM334 313h1v1h-1zM334 315h1v1h-1zM337 301h1v1h-1zM342 307h1v1h-1zM346 272h1v1h-1zM346 312h1v1h-1zM350 315h1v1h-1zM355 304h1v1h-1zM358 308h1v1h-1zM365 275h1v1h-1zM365 295h1v1h-1z"/>
<path fill="#000" d="M306 310h1v1h-1zM307 316h1v1h-1zM308 312h1v1h-1zM308 313h1v1h-1zM308 314h1v1h-1zM308 317h1v1h-1zM309 308h1v1h-1zM309 309h1v1h-1zM309 312h1v1h-1zM309 314h1v1h-1zM310 309h1v1h-1zM310 310h1v1h-1zM310 311h1v1h-1zM310 312h1v1h-1zM310 313h1v1h-1zM310 317h1v1h-1zM311 309h1v1h-1zM311 310h1v1h-1zM311 311h1v1h-1zM311 313h1v1h-1zM311 316h1v1h-1zM311 317h1v1h-1zM311 319h1v1h-1zM312 308h1v1h-1zM312 309h1v1h-1zM312 310h1v1h-1zM312 312h1v1h-1zM312 313h1v1h-1zM312 314h1v1h-1zM312 315h1v1h-1zM312 318h1v1h-1zM313 308h1v1h-1zM313 309h1v1h-1zM313 310h1v1h-1zM313 311h1v1h-1zM313 313h1v1h-1zM313 317h1v1h-1zM314 306h1v1h-1zM314 307h1v1h-1zM314 310h1v1h-1zM314 312h1v1h-1zM314 313h1v1h-1zM314 314h1v1h-1zM314 316h1v1h-1zM314 318h1v1h-1zM314 319h1v1h-1zM315 308h1v1h-1zM315 311h1v1h-1zM315 313h1v1h-1zM315 315h1v1h-1zM315 316h1v1h-1zM316 307h1v1h-1zM316 314h1v1h-1zM316 316h1v1h-1zM316 317h1v1h-1zM317 307h1v1h-1zM317 309h1v1h-1zM317 310h1v1h-1zM317 311h1v1h-1zM317 312h1v1h-1zM317 316h1v1h-1zM318 307h1v1h-1zM318 309h1v1h-1zM318 310h1v1h-1zM318 311h1v1h-1zM318 316h1v1h-1zM319 308h1v1h-1zM319 309h1v1h-1zM319 314h1v1h-1zM319 316h1v1h-1zM320 309h1v1h-1zM320 310h1v1h-1zM320 311h1v1h-1zM320 313h1v1h-1zM320 315h1v1h-1zM320 316h1v1h-1zM320 317h1v1h-1zM320 320h1v1h-1zM321 310h1v1h-1zM321 313h1v1h-1zM321 315h1v1h-1zM321 316h1v1h-1zM321 317h1v1h-1zM322 310h1v1h-1zM322 312h1v1h-1zM322 313h1v1h-1zM322 316h1v1h-1zM322 317h1v1h-1zM323 311h1v1h-1zM323 313h1v1h-1zM323 314h1v1h-1zM323 315h1v1h-1zM323 316h1v1h-1zM323 317h1v1h-1zM323 318h1v1h-1zM323 319h1v1h-1zM324 305h1v1h-1zM324 312h1v1h-1zM324 313h1v1h-1zM324 314h1v1h-1zM324 315h1v1h-1zM324 316h1v1h-1zM324 317h1v1h-1zM324 318h1v1h-1zM324 320h1v1h-1zM325 307h1v1h-1zM325 315h1v1h-1zM325 316h1v1h-1zM325 317h1v1h-1zM325 318h1v1h-1zM325 319h1v1h-1zM325 320h1v1h-1zM326 311h1v1h-1zM326 312h1v1h-1zM326 314h1v1h-1zM326 316h1v1h-1zM326 317h1v1h-1zM326 319h1v1h-1zM326 320h1v1h-1zM326 321h1v1h-1zM327 311h1v1h-1zM327 313h1v1h-1zM327 314h1v1h-1zM327 315h1v1h-1zM327 316h1v1h-1zM327 317h1v1h-1zM327 318h1v1h-1zM327 319h1v1h-1zM327 320h1v1h-1zM327 321h1v1h-1zM328 304h1v1h-1zM328 309h1v1h-1zM328 310h1v1h-1zM328 311h1v1h-1zM328 312h1v1h-1zM328 313h1v1h-1zM328 314h1v1h-1zM328 315h1v1h-1zM328 316h1v1h-1zM328 317h1v1h-1zM328 318h1v1h-1zM328 319h1v1h-1zM328 320h1v1h-1zM328 322h1v1h-1zM329 307h1v1h-1zM329 310h1v1h-1zM329 311h1v1h-1zM329 312h1v1h-1zM329 313h1v1h-1zM329 314h1v1h-1zM329 315h1v1h-1zM329 316h1v1h-1zM329 317h1v1h-1zM329 318h1v1h-1zM329 320h1v1h-1zM329 321h1v1h-1zM329 323h1v1h-1zM330 304h1v1h-1zM330 306h1v1h-1zM330 308h1v1h-1zM330 309h1v1h-1zM330 311h1v1h-1zM330 312h1v1h-1zM330 313h1v1h-1zM330 315h1v1h-1zM330 316h1v1h-1zM330 317h1v1h-1zM330 318h1v1h-1zM330 319h1v1h-1zM330 320h1v1h-1zM330 322h1v1h-1zM331 303h1v1h-1zM331 304h1v1h-1zM331 306h1v1h-1zM331 311h1v1h-1zM331 312h1v1h-1zM331 313h1v1h-1zM331 315h1v1h-1zM331 316h1v1h-1zM331 317h1v1h-1zM331 318h1v1h-1zM331 319h1v1h-1zM331 320h1v1h-1zM331 321h1v1h-1zM332 309h1v1h-1zM332 310h1v1h-1zM332 311h1v1h-1zM332 312h1v1h-1zM332 315h1v1h-1zM332 316h1v1h-1zM332 317h1v1h-1zM332 318h1v1h-1zM332 320h1v1h-1zM332 322h1v1h-1zM333 305h1v1h-1zM333 310h1v1h-1zM333 311h1v1h-1zM333 312h1v1h-1zM333 313h1v1h-1zM333 314h1v1h-1zM333 315h1v1h-1zM333 317h1v1h-1zM333 318h1v1h-1zM333 319h1v1h-1zM333 320h1v1h-1zM333 323h1v1h-1zM334 305h1v1h-1zM334 307h1v1h-1zM334 312h1v1h-1zM334 313h1v1h-1zM334 314h1v1h-1zM334 315h1v1h-1zM334 316h1v1h-1zM334 317h1v1h-1zM334 318h1v1h-1zM334 319h1v1h-1zM334 320h1v1h-1zM334 321h1v1h-1zM335 305h1v1h-1zM335 306h1v1h-1zM335 312h1v1h-1zM335 314h1v1h-1zM335 315h1v1h-1zM335 316h1v1h-1zM335 318h1v1h-1zM335 319h1v1h-1zM335 320h1v1h-1zM335 321h1v1h-1zM335 322h1v1h-1zM336 303h1v1h-1zM336 310h1v1h-1zM336 313h1v1h-1zM336 315h1v1h-1zM336 316h1v1h-1zM336 318h1v1h-1zM336 319h1v1h-1zM336 320h1v1h-1zM336 321h1v1h-1zM337 303h1v1h-1zM337 309h1v1h-1zM337 311h1v1h-1zM337 312h1v1h-1zM337 313h1v1h-1zM337 314h1v1h-1zM337 315h1v1h-1zM337 316h1v1h-1zM337 317h1v1h-1zM337 318h1v1h-1zM337 320h1v1h-1zM337 321h1v1h-1zM337 322h1v1h-1zM338 307h1v1h-1zM338 308h1v1h-1zM338 310h1v1h-1zM338 311h1v1h-1zM338 312h1v1h-1zM338 313h1v1h-1zM338 315h1v1h-1zM338 316h1v1h-1zM338 317h1v1h-1zM338 318h1v1h-1zM338 319h1v1h-1zM338 321h1v1h-1zM339 308h1v1h-1zM339 309h1v1h-1zM339 311h1v1h-1zM339 312h1v1h-1zM339 313h1v1h-1zM339 314h1v1h-1zM339 315h1v1h-1zM339 316h1v1h-1zM339 317h1v1h-1zM339 318h1v1h-1zM339 319h1v1h-1zM340 310h1v1h-1zM340 312h1v1h-1zM340 313h1v1h-1zM340 314h1v1h-1zM340 315h1v1h-1zM340 316h1v1h-1zM340 317h1v1h-1zM340 318h1v1h-1zM340 319h1v1h-1zM340 320h1v1h-1zM340 321h1v1h-1zM340 322h1v1h-1zM341 310h1v1h-1zM341 311h1v1h-1zM341 312h1v1h-1zM341 313h1v1h-1zM341 314h1v1h-1zM341 315h1v1h-1zM341 316h1v1h-1zM341 317h1v1h-1zM341 319h1v1h-1zM341 322h1v1h-1zM342 312h1v1h-1zM342 313h1v1h-1zM342 314h1v1h-1zM342 315h1v1h-1zM342 316h1v1h-1zM342 317h1v1h-1zM343 314h1v1h-1zM343 316h1v1h-1zM343 317h1v1h-1zM343 318h1v1h-1zM345 315h1v1h-1zM345 320h1v1h-1zM346 318h1v1h-1z"/>
<rect x="304.8" y="268.7" width="62.69999999999999" height="56.69999999999999" fill="none" stroke="#555" stroke-width="0.9"/>
<line x1="302.10" y1="268.70" x2="304.80" y2="268.70" stroke="#555" stroke-width="0.9" />
<line x1="321.80" y1="268.70" x2="321.80" y2="325.40" stroke="#555" stroke-width="0.9" />
<line x1="304.80" y1="308.80" x2="367.50" y2="308.80" stroke="#555" stroke-width="0.9" />
<path fill="none" stroke="#222" stroke-width="0.85" d="M302.1 325.4h2.7M304.8 324.9v2.0M302.6 321.1h2.2M309.5 324.9v2.0M302.6 318.6h2.2M312.3 324.9v2.0M302.6 316.9h2.2M314.2 324.9v2.0M302.6 315.5h2.2M315.8 324.9v2.0M302.6 314.4h2.2M317.0 324.9v2.0M302.6 313.4h2.2M318.0 324.9v2.0M302.6 312.6h2.2M319.0 324.9v2.0M302.6 311.9h2.2M319.8 324.9v2.0M302.1 311.2h2.7M320.5 324.9v2.0M302.6 307.0h2.2M325.2 324.9v2.0M302.6 304.5h2.2M328.0 324.9v2.0M302.6 302.7h2.2M329.9 324.9v2.0M302.6 301.3h2.2M331.4 324.9v2.0M302.6 300.2h2.2M332.7 324.9v2.0M302.6 299.2h2.2M333.7 324.9v2.0M302.6 298.4h2.2M334.6 324.9v2.0M302.6 297.7h2.2M335.4 324.9v2.0M302.1 297.0h2.7M336.1 324.9v2.0M302.6 292.8h2.2M340.9 324.9v2.0M302.6 290.3h2.2M343.6 324.9v2.0M302.6 288.5h2.2M345.6 324.9v2.0M302.6 287.1h2.2M347.1 324.9v2.0M302.6 286.0h2.2M348.3 324.9v2.0M302.6 285.1h2.2M349.4 324.9v2.0M302.6 284.2h2.2M350.3 324.9v2.0M302.6 283.5h2.2M351.1 324.9v2.0M302.1 282.9h2.7M351.8 324.9v2.0M302.6 278.6h2.2M356.5 324.9v2.0M302.6 276.1h2.2M359.3 324.9v2.0M302.6 274.3h2.2M361.3 324.9v2.0M302.6 273.0h2.2M362.8 324.9v2.0M302.6 271.8h2.2M364.0 324.9v2.0M302.6 270.9h2.2M365.1 324.9v2.0M302.6 270.1h2.2M366.0 324.9v2.0"/>
<text x="312" y="279.5" font-size="8.6" text-anchor="middle" >2</text>
<text x="357.4" y="279.5" font-size="8.6" text-anchor="middle" >3</text>
<text x="359.9" y="318.8" font-size="8.6" text-anchor="middle" >78</text>
<path fill="#666" d="M238 383h1v1h-1zM244 377h1v1h-1zM244 388h1v1h-1zM245 387h1v1h-1zM249 387h1v1h-1zM249 389h1v1h-1zM251 382h1v1h-1zM251 399h1v1h-1zM254 387h1v1h-1zM255 388h1v1h-1zM258 396h1v1h-1zM259 397h1v1h-1zM268 390h1v1h-1zM269 380h1v1h-1zM270 384h1v1h-1zM272 387h1v1h-1zM279 381h1v1h-1zM283 369h1v1h-1zM295 352h1v1h-1z"/>
<path fill="#000" d="M235 389h1v1h-1zM236 387h1v1h-1zM236 388h1v1h-1zM236 389h1v1h-1zM236 390h1v1h-1zM236 391h1v1h-1zM236 392h1v1h-1zM236 393h1v1h-1zM236 394h1v1h-1zM236 397h1v1h-1zM237 387h1v1h-1zM237 388h1v1h-1zM237 389h1v1h-1zM237 390h1v1h-1zM237 392h1v1h-1zM237 393h1v1h-1zM237 394h1v1h-1zM237 395h1v1h-1zM237 396h1v1h-1zM238 387h1v1h-1zM238 388h1v1h-1zM238 389h1v1h-1zM238 390h1v1h-1zM238 391h1v1h-1zM238 392h1v1h-1zM238 393h1v1h-1zM238 394h1v1h-1zM238 397h1v1h-1zM239 385h1v1h-1zM239 386h1v1h-1zM239 387h1v1h-1zM239 388h1v1h-1zM239 389h1v1h-1zM239 390h1v1h-1zM239 391h1v1h-1zM239 392h1v1h-1zM239 394h1v1h-1zM239 395h1v1h-1zM239 399h1v1h-1zM239 400h1v1h-1zM240 384h1v1h-1zM240 385h1v1h-1zM240 386h1v1h-1zM240 387h1v1h-1zM240 388h1v1h-1zM240 389h1v1h-1zM240 391h1v1h-1zM240 392h1v1h-1zM240 393h1v1h-1zM240 395h1v1h-1zM240 396h1v1h-1zM240 397h1v1h-1zM240 398h1v1h-1zM240 399h1v1h-1zM241 384h1v1h-1zM241 385h1v1h-1zM241 386h1v1h-1zM241 387h1v1h-1zM241 388h1v1h-1zM241 390h1v1h-1zM241 392h1v1h-1zM241 393h1v1h-1zM241 395h1v1h-1zM241 396h1v1h-1zM241 397h1v1h-1zM241 398h1v1h-1zM241 399h1v1h-1zM241 400h1v1h-1zM242 384h1v1h-1zM242 385h1v1h-1zM242 386h1v1h-1zM242 387h1v1h-1zM242 388h1v1h-1zM242 389h1v1h-1zM242 390h1v1h-1zM242 391h1v1h-1zM242 392h1v1h-1zM242 393h1v1h-1zM242 394h1v1h-1zM242 395h1v1h-1zM242 400h1v1h-1zM243 384h1v1h-1zM243 385h1v1h-1zM243 386h1v1h-1zM243 387h1v1h-1zM243 388h1v1h-1zM243 389h1v1h-1zM243 390h1v1h-1zM243 391h1v1h-1zM243 392h1v1h-1zM243 393h1v1h-1zM243 395h1v1h-1zM243 396h1v1h-1zM243 397h1v1h-1zM243 399h1v1h-1zM243 400h1v1h-1zM244 385h1v1h-1zM244 386h1v1h-1zM244 388h1v1h-1zM244 389h1v1h-1zM244 390h1v1h-1zM244 391h1v1h-1zM244 392h1v1h-1zM244 393h1v1h-1zM244 394h1v1h-1zM244 395h1v1h-1zM244 396h1v1h-1zM244 399h1v1h-1zM244 400h1v1h-1zM244 401h1v1h-1zM245 382h1v1h-1zM245 385h1v1h-1zM245 386h1v1h-1zM245 387h1v1h-1zM245 388h1v1h-1zM245 389h1v1h-1zM245 390h1v1h-1zM245 392h1v1h-1zM245 393h1v1h-1zM245 395h1v1h-1zM245 396h1v1h-1zM245 397h1v1h-1zM245 398h1v1h-1zM245 399h1v1h-1zM245 400h1v1h-1zM246 380h1v1h-1zM246 382h1v1h-1zM246 383h1v1h-1zM246 384h1v1h-1zM246 385h1v1h-1zM246 386h1v1h-1zM246 387h1v1h-1zM246 388h1v1h-1zM246 389h1v1h-1zM246 390h1v1h-1zM246 391h1v1h-1zM246 393h1v1h-1zM246 395h1v1h-1zM246 396h1v1h-1zM246 397h1v1h-1zM246 398h1v1h-1zM246 400h1v1h-1zM247 380h1v1h-1zM247 382h1v1h-1zM247 383h1v1h-1zM247 385h1v1h-1zM247 386h1v1h-1zM247 387h1v1h-1zM247 388h1v1h-1zM247 389h1v1h-1zM247 390h1v1h-1zM247 391h1v1h-1zM247 392h1v1h-1zM247 393h1v1h-1zM247 394h1v1h-1zM247 395h1v1h-1zM247 396h1v1h-1zM247 397h1v1h-1zM247 398h1v1h-1zM247 399h1v1h-1zM247 400h1v1h-1zM248 382h1v1h-1zM248 383h1v1h-1zM248 384h1v1h-1zM248 385h1v1h-1zM248 386h1v1h-1zM248 387h1v1h-1zM248 388h1v1h-1zM248 389h1v1h-1zM248 390h1v1h-1zM248 391h1v1h-1zM248 392h1v1h-1zM248 393h1v1h-1zM248 394h1v1h-1zM248 395h1v1h-1zM248 396h1v1h-1zM248 398h1v1h-1zM248 399h1v1h-1zM248 400h1v1h-1zM249 383h1v1h-1zM249 384h1v1h-1zM249 385h1v1h-1zM249 386h1v1h-1zM249 387h1v1h-1zM249 390h1v1h-1zM249 391h1v1h-1zM249 392h1v1h-1zM249 393h1v1h-1zM249 394h1v1h-1zM249 395h1v1h-1zM249 396h1v1h-1zM249 397h1v1h-1zM249 398h1v1h-1zM249 400h1v1h-1zM250 380h1v1h-1zM250 381h1v1h-1zM250 383h1v1h-1zM250 384h1v1h-1zM250 387h1v1h-1zM250 388h1v1h-1zM250 389h1v1h-1zM250 390h1v1h-1zM250 392h1v1h-1zM250 393h1v1h-1zM250 394h1v1h-1zM250 395h1v1h-1zM250 396h1v1h-1zM250 397h1v1h-1zM250 398h1v1h-1zM250 400h1v1h-1zM251 380h1v1h-1zM251 383h1v1h-1zM251 384h1v1h-1zM251 385h1v1h-1zM251 386h1v1h-1zM251 387h1v1h-1zM251 388h1v1h-1zM251 389h1v1h-1zM251 390h1v1h-1zM251 391h1v1h-1zM251 392h1v1h-1zM251 393h1v1h-1zM251 394h1v1h-1zM251 397h1v1h-1zM251 399h1v1h-1zM251 400h1v1h-1zM252 382h1v1h-1zM252 384h1v1h-1zM252 385h1v1h-1zM252 386h1v1h-1zM252 389h1v1h-1zM252 390h1v1h-1zM252 391h1v1h-1zM252 392h1v1h-1zM252 393h1v1h-1zM252 394h1v1h-1zM252 395h1v1h-1zM252 396h1v1h-1zM252 397h1v1h-1zM252 398h1v1h-1zM253 382h1v1h-1zM253 385h1v1h-1zM253 386h1v1h-1zM253 388h1v1h-1zM253 389h1v1h-1zM253 392h1v1h-1zM253 393h1v1h-1zM253 394h1v1h-1zM253 395h1v1h-1zM253 396h1v1h-1zM253 397h1v1h-1zM254 387h1v1h-1zM254 388h1v1h-1zM254 389h1v1h-1zM254 390h1v1h-1zM254 391h1v1h-1zM254 392h1v1h-1zM254 393h1v1h-1zM254 394h1v1h-1zM254 395h1v1h-1zM254 397h1v1h-1zM255 379h1v1h-1zM255 387h1v1h-1zM255 388h1v1h-1zM255 389h1v1h-1zM255 390h1v1h-1zM255 392h1v1h-1zM255 393h1v1h-1zM255 394h1v1h-1zM255 395h1v1h-1zM255 396h1v1h-1zM255 398h1v1h-1zM255 399h1v1h-1zM256 381h1v1h-1zM256 383h1v1h-1zM256 386h1v1h-1zM256 387h1v1h-1zM256 388h1v1h-1zM256 390h1v1h-1zM256 391h1v1h-1zM256 392h1v1h-1zM256 395h1v1h-1zM256 398h1v1h-1zM257 384h1v1h-1zM257 389h1v1h-1zM257 390h1v1h-1zM257 392h1v1h-1zM257 393h1v1h-1zM257 394h1v1h-1zM257 395h1v1h-1zM258 383h1v1h-1zM258 384h1v1h-1zM258 385h1v1h-1zM258 387h1v1h-1zM258 390h1v1h-1zM258 391h1v1h-1zM259 387h1v1h-1zM259 389h1v1h-1zM260 386h1v1h-1zM261 384h1v1h-1z"/>
<rect x="235.4" y="344.7" width="63.49999999999997" height="58.0" fill="none" stroke="#555" stroke-width="0.9"/>
<line x1="232.70" y1="344.70" x2="235.40" y2="344.70" stroke="#555" stroke-width="0.9" />
<line x1="254.50" y1="344.70" x2="254.50" y2="402.70" stroke="#555" stroke-width="0.9" />
<line x1="235.40" y1="385.40" x2="298.90" y2="385.40" stroke="#555" stroke-width="0.9" />
<path fill="none" stroke="#222" stroke-width="0.85" d="M232.7 402.7h2.7M235.4 402.2v2.0M233.2 398.3h2.2M240.2 402.2v2.0M233.2 395.8h2.2M243.0 402.2v2.0M233.2 394.0h2.2M245.0 402.2v2.0M233.2 392.6h2.2M246.5 402.2v2.0M233.2 391.4h2.2M247.8 402.2v2.0M233.2 390.4h2.2M248.8 402.2v2.0M233.2 389.6h2.2M249.7 402.2v2.0M233.2 388.9h2.2M250.5 402.2v2.0M232.7 388.2h2.7M251.3 402.2v2.0M233.2 383.8h2.2M256.1 402.2v2.0M233.2 381.3h2.2M258.8 402.2v2.0M233.2 379.5h2.2M260.8 402.2v2.0M233.2 378.1h2.2M262.4 402.2v2.0M233.2 376.9h2.2M263.6 402.2v2.0M233.2 375.9h2.2M264.7 402.2v2.0M233.2 375.1h2.2M265.6 402.2v2.0M233.2 374.4h2.2M266.4 402.2v2.0M232.7 373.7h2.7M267.1 402.2v2.0M233.2 369.3h2.2M271.9 402.2v2.0M233.2 366.8h2.2M274.7 402.2v2.0M233.2 365.0h2.2M276.7 402.2v2.0M233.2 363.6h2.2M278.2 402.2v2.0M233.2 362.4h2.2M279.5 402.2v2.0M233.2 361.4h2.2M280.6 402.2v2.0M233.2 360.6h2.2M281.5 402.2v2.0M233.2 359.9h2.2M282.3 402.2v2.0M232.7 359.2h2.7M283.0 402.2v2.0M233.2 354.8h2.2M287.8 402.2v2.0M233.2 352.3h2.2M290.6 402.2v2.0M233.2 350.5h2.2M292.6 402.2v2.0M233.2 349.1h2.2M294.1 402.2v2.0M233.2 347.9h2.2M295.4 402.2v2.0M233.2 346.9h2.2M296.4 402.2v2.0M233.2 346.1h2.2M297.4 402.2v2.0"/>
<text x="245.8" y="356.4" font-size="8.6" text-anchor="middle" >1</text>
<text x="287.3" y="356.4" font-size="8.6" text-anchor="middle" >1</text>
<text x="289.8" y="394.6" font-size="8.6" text-anchor="middle" >5</text>
<path fill="#666" d="M306 378h1v1h-1zM309 382h1v1h-1zM310 372h1v1h-1zM311 399h1v1h-1zM313 387h1v1h-1zM314 364h1v1h-1zM316 383h1v1h-1zM317 392h1v1h-1zM318 361h1v1h-1zM318 365h1v1h-1zM318 378h1v1h-1zM319 388h1v1h-1zM319 398h1v1h-1zM321 372h1v1h-1zM322 383h1v1h-1zM325 397h1v1h-1zM327 378h1v1h-1zM327 383h1v1h-1zM328 385h1v1h-1zM330 369h1v1h-1zM331 366h1v1h-1zM333 396h1v1h-1zM341 363h1v1h-1zM341 387h1v1h-1zM342 381h1v1h-1zM345 382h1v1h-1zM346 378h1v1h-1zM346 388h1v1h-1zM354 384h1v1h-1zM365 399h1v1h-1z"/>
<path fill="#000" d="M306 378h1v1h-1zM306 380h1v1h-1zM306 382h1v1h-1zM306 387h1v1h-1zM307 379h1v1h-1zM307 380h1v1h-1zM307 381h1v1h-1zM307 382h1v1h-1zM307 383h1v1h-1zM307 384h1v1h-1zM307 386h1v1h-1zM307 389h1v1h-1zM307 391h1v1h-1zM308 375h1v1h-1zM308 376h1v1h-1zM308 377h1v1h-1zM308 379h1v1h-1zM308 380h1v1h-1zM308 381h1v1h-1zM308 382h1v1h-1zM308 383h1v1h-1zM308 384h1v1h-1zM308 391h1v1h-1zM309 372h1v1h-1zM309 373h1v1h-1zM309 374h1v1h-1zM309 375h1v1h-1zM309 381h1v1h-1zM309 382h1v1h-1zM309 384h1v1h-1zM309 385h1v1h-1zM309 388h1v1h-1zM309 392h1v1h-1zM309 393h1v1h-1zM310 376h1v1h-1zM310 378h1v1h-1zM310 379h1v1h-1zM310 380h1v1h-1zM310 384h1v1h-1zM310 385h1v1h-1zM310 390h1v1h-1zM310 392h1v1h-1zM310 393h1v1h-1zM310 395h1v1h-1zM310 396h1v1h-1zM311 369h1v1h-1zM311 371h1v1h-1zM311 373h1v1h-1zM311 374h1v1h-1zM311 376h1v1h-1zM311 377h1v1h-1zM311 378h1v1h-1zM311 379h1v1h-1zM311 381h1v1h-1zM311 384h1v1h-1zM311 386h1v1h-1zM311 388h1v1h-1zM311 390h1v1h-1zM311 391h1v1h-1zM311 393h1v1h-1zM311 395h1v1h-1zM311 396h1v1h-1zM312 368h1v1h-1zM312 371h1v1h-1zM312 372h1v1h-1zM312 373h1v1h-1zM312 375h1v1h-1zM312 376h1v1h-1zM312 377h1v1h-1zM312 378h1v1h-1zM312 379h1v1h-1zM312 380h1v1h-1zM312 381h1v1h-1zM312 382h1v1h-1zM312 384h1v1h-1zM312 385h1v1h-1zM312 388h1v1h-1zM312 389h1v1h-1zM312 390h1v1h-1zM312 391h1v1h-1zM312 392h1v1h-1zM312 395h1v1h-1zM313 370h1v1h-1zM313 371h1v1h-1zM313 373h1v1h-1zM313 376h1v1h-1zM313 377h1v1h-1zM313 379h1v1h-1zM313 380h1v1h-1zM313 381h1v1h-1zM313 382h1v1h-1zM313 383h1v1h-1zM313 384h1v1h-1zM313 385h1v1h-1zM313 386h1v1h-1zM313 387h1v1h-1zM313 388h1v1h-1zM313 389h1v1h-1zM313 390h1v1h-1zM313 392h1v1h-1zM313 393h1v1h-1zM313 395h1v1h-1zM313 396h1v1h-1zM313 397h1v1h-1zM313 398h1v1h-1zM314 369h1v1h-1zM314 371h1v1h-1zM314 372h1v1h-1zM314 373h1v1h-1zM314 374h1v1h-1zM314 375h1v1h-1zM314 376h1v1h-1zM314 377h1v1h-1zM314 378h1v1h-1zM314 379h1v1h-1zM314 381h1v1h-1zM314 382h1v1h-1zM314 383h1v1h-1zM314 384h1v1h-1zM314 385h1v1h-1zM314 386h1v1h-1zM314 387h1v1h-1zM314 390h1v1h-1zM314 391h1v1h-1zM314 392h1v1h-1zM314 393h1v1h-1zM314 394h1v1h-1zM314 395h1v1h-1zM314 397h1v1h-1zM315 369h1v1h-1zM315 372h1v1h-1zM315 373h1v1h-1zM315 374h1v1h-1zM315 375h1v1h-1zM315 376h1v1h-1zM315 377h1v1h-1zM315 378h1v1h-1zM315 379h1v1h-1zM315 380h1v1h-1zM315 381h1v1h-1zM315 382h1v1h-1zM315 383h1v1h-1zM315 384h1v1h-1zM315 387h1v1h-1zM315 388h1v1h-1zM315 389h1v1h-1zM315 390h1v1h-1zM315 391h1v1h-1zM315 392h1v1h-1zM315 393h1v1h-1zM315 394h1v1h-1zM315 397h1v1h-1zM315 398h1v1h-1zM315 399h1v1h-1zM316 369h1v1h-1zM316 370h1v1h-1zM316 372h1v1h-1zM316 374h1v1h-1zM316 375h1v1h-1zM316 376h1v1h-1zM316 380h1v1h-1zM316 381h1v1h-1zM316 382h1v1h-1zM316 383h1v1h-1zM316 384h1v1h-1zM316 385h1v1h-1zM316 386h1v1h-1zM316 387h1v1h-1zM316 391h1v1h-1zM316 392h1v1h-1zM316 396h1v1h-1zM316 399h1v1h-1zM316 400h1v1h-1zM317 368h1v1h-1zM317 371h1v1h-1zM317 372h1v1h-1zM317 373h1v1h-1zM317 374h1v1h-1zM317 375h1v1h-1zM317 376h1v1h-1zM317 377h1v1h-1zM317 380h1v1h-1zM317 382h1v1h-1zM317 383h1v1h-1zM317 385h1v1h-1zM317 386h1v1h-1zM317 387h1v1h-1zM317 388h1v1h-1zM317 389h1v1h-1zM317 393h1v1h-1zM317 395h1v1h-1zM317 399h1v1h-1zM317 400h1v1h-1zM318 366h1v1h-1zM318 369h1v1h-1zM318 372h1v1h-1zM318 373h1v1h-1zM318 374h1v1h-1zM318 377h1v1h-1zM318 379h1v1h-1zM318 380h1v1h-1zM318 381h1v1h-1zM318 382h1v1h-1zM318 383h1v1h-1zM318 384h1v1h-1zM318 385h1v1h-1zM318 387h1v1h-1zM318 390h1v1h-1zM318 391h1v1h-1zM318 392h1v1h-1zM318 393h1v1h-1zM318 396h1v1h-1zM318 400h1v1h-1zM319 369h1v1h-1zM319 370h1v1h-1zM319 371h1v1h-1zM319 372h1v1h-1zM319 373h1v1h-1zM319 374h1v1h-1zM319 375h1v1h-1zM319 376h1v1h-1zM319 377h1v1h-1zM319 378h1v1h-1zM319 379h1v1h-1zM319 380h1v1h-1zM319 381h1v1h-1zM319 382h1v1h-1zM319 384h1v1h-1zM319 385h1v1h-1zM319 386h1v1h-1zM319 387h1v1h-1zM319 388h1v1h-1zM319 389h1v1h-1zM319 390h1v1h-1zM319 391h1v1h-1zM319 392h1v1h-1zM319 393h1v1h-1zM319 394h1v1h-1zM319 395h1v1h-1zM319 396h1v1h-1zM319 399h1v1h-1zM319 400h1v1h-1zM320 366h1v1h-1zM320 368h1v1h-1zM320 369h1v1h-1zM320 370h1v1h-1zM320 371h1v1h-1zM320 372h1v1h-1zM320 373h1v1h-1zM320 374h1v1h-1zM320 375h1v1h-1zM320 377h1v1h-1zM320 378h1v1h-1zM320 379h1v1h-1zM320 380h1v1h-1zM320 381h1v1h-1zM320 382h1v1h-1zM320 383h1v1h-1zM320 384h1v1h-1zM320 385h1v1h-1zM320 386h1v1h-1zM320 387h1v1h-1zM320 388h1v1h-1zM320 389h1v1h-1zM320 391h1v1h-1zM320 392h1v1h-1zM320 394h1v1h-1zM320 396h1v1h-1zM320 398h1v1h-1zM321 367h1v1h-1zM321 369h1v1h-1zM321 370h1v1h-1zM321 371h1v1h-1zM321 372h1v1h-1zM321 374h1v1h-1zM321 375h1v1h-1zM321 377h1v1h-1zM321 378h1v1h-1zM321 379h1v1h-1zM321 382h1v1h-1zM321 383h1v1h-1zM321 384h1v1h-1zM321 385h1v1h-1zM321 386h1v1h-1zM321 387h1v1h-1zM321 388h1v1h-1zM321 391h1v1h-1zM321 392h1v1h-1zM321 394h1v1h-1zM321 396h1v1h-1zM321 398h1v1h-1zM322 368h1v1h-1zM322 369h1v1h-1zM322 370h1v1h-1zM322 371h1v1h-1zM322 372h1v1h-1zM322 375h1v1h-1zM322 376h1v1h-1zM322 377h1v1h-1zM322 378h1v1h-1zM322 379h1v1h-1zM322 380h1v1h-1zM322 381h1v1h-1zM322 382h1v1h-1zM322 383h1v1h-1zM322 384h1v1h-1zM322 385h1v1h-1zM322 386h1v1h-1zM322 387h1v1h-1zM322 389h1v1h-1zM322 392h1v1h-1zM322 394h1v1h-1zM322 395h1v1h-1zM322 397h1v1h-1zM322 398h1v1h-1zM322 399h1v1h-1zM323 366h1v1h-1zM323 368h1v1h-1zM323 369h1v1h-1zM323 370h1v1h-1zM323 371h1v1h-1zM323 372h1v1h-1zM323 373h1v1h-1zM323 374h1v1h-1zM323 375h1v1h-1zM323 377h1v1h-1zM323 379h1v1h-1zM323 381h1v1h-1zM323 382h1v1h-1zM323 383h1v1h-1zM323 384h1v1h-1zM323 385h1v1h-1zM323 386h1v1h-1zM323 387h1v1h-1zM323 389h1v1h-1zM323 390h1v1h-1zM323 392h1v1h-1zM323 395h1v1h-1zM323 396h1v1h-1zM323 398h1v1h-1zM324 368h1v1h-1zM324 369h1v1h-1zM324 370h1v1h-1zM324 371h1v1h-1zM324 372h1v1h-1zM324 373h1v1h-1zM324 374h1v1h-1zM324 377h1v1h-1zM324 378h1v1h-1zM324 379h1v1h-1zM324 380h1v1h-1zM324 381h1v1h-1zM324 383h1v1h-1zM324 384h1v1h-1zM324 385h1v1h-1zM324 387h1v1h-1zM324 388h1v1h-1zM324 390h1v1h-1zM324 392h1v1h-1zM324 395h1v1h-1zM324 396h1v1h-1zM324 397h1v1h-1zM324 400h1v1h-1zM325 366h1v1h-1zM325 370h1v1h-1zM325 371h1v1h-1zM325 372h1v1h-1zM325 373h1v1h-1zM325 374h1v1h-1zM325 375h1v1h-1zM325 376h1v1h-1zM325 378h1v1h-1zM325 380h1v1h-1zM325 381h1v1h-1zM325 382h1v1h-1zM325 383h1v1h-1zM325 384h1v1h-1zM325 385h1v1h-1zM325 386h1v1h-1zM325 389h1v1h-1zM325 390h1v1h-1zM325 391h1v1h-1zM325 392h1v1h-1zM325 393h1v1h-1zM325 394h1v1h-1zM325 395h1v1h-1zM325 396h1v1h-1zM325 397h1v1h-1zM326 367h1v1h-1zM326 372h1v1h-1zM326 373h1v1h-1zM326 374h1v1h-1zM326 375h1v1h-1zM326 376h1v1h-1zM326 377h1v1h-1zM326 379h1v1h-1zM326 380h1v1h-1zM326 381h1v1h-1zM326 382h1v1h-1zM326 384h1v1h-1zM326 385h1v1h-1zM326 386h1v1h-1zM326 387h1v1h-1zM326 388h1v1h-1zM326 389h1v1h-1zM326 392h1v1h-1zM326 393h1v1h-1zM326 395h1v1h-1zM326 397h1v1h-1zM326 398h1v1h-1zM327 369h1v1h-1zM327 372h1v1h-1zM327 373h1v1h-1zM327 374h1v1h-1zM327 375h1v1h-1zM327 376h1v1h-1zM327 377h1v1h-1zM327 378h1v1h-1zM327 379h1v1h-1zM327 380h1v1h-1zM327 381h1v1h-1zM327 382h1v1h-1zM327 383h1v1h-1zM327 384h1v1h-1zM327 385h1v1h-1zM327 386h1v1h-1zM327 388h1v1h-1zM327 389h1v1h-1zM327 390h1v1h-1zM327 393h1v1h-1zM327 394h1v1h-1zM327 398h1v1h-1zM327 399h1v1h-1zM328 370h1v1h-1zM328 372h1v1h-1zM328 374h1v1h-1zM328 375h1v1h-1zM328 376h1v1h-1zM328 377h1v1h-1zM328 379h1v1h-1zM328 380h1v1h-1zM328 381h1v1h-1zM328 382h1v1h-1zM328 383h1v1h-1zM328 384h1v1h-1zM328 385h1v1h-1zM328 388h1v1h-1zM328 390h1v1h-1zM328 391h1v1h-1zM328 392h1v1h-1zM328 393h1v1h-1zM328 395h1v1h-1zM328 397h1v1h-1zM329 371h1v1h-1zM329 372h1v1h-1zM329 373h1v1h-1zM329 374h1v1h-1zM329 376h1v1h-1zM329 377h1v1h-1zM329 378h1v1h-1zM329 379h1v1h-1zM329 382h1v1h-1zM329 383h1v1h-1zM329 384h1v1h-1zM329 385h1v1h-1zM329 387h1v1h-1zM329 389h1v1h-1zM329 390h1v1h-1zM329 393h1v1h-1zM329 397h1v1h-1zM330 370h1v1h-1zM330 373h1v1h-1zM330 374h1v1h-1zM330 375h1v1h-1zM330 377h1v1h-1zM330 378h1v1h-1zM330 379h1v1h-1zM330 382h1v1h-1zM330 383h1v1h-1zM330 386h1v1h-1zM330 387h1v1h-1zM330 389h1v1h-1zM330 391h1v1h-1zM330 393h1v1h-1zM330 396h1v1h-1zM330 397h1v1h-1zM331 368h1v1h-1zM331 373h1v1h-1zM331 374h1v1h-1zM331 376h1v1h-1zM331 377h1v1h-1zM331 378h1v1h-1zM331 380h1v1h-1zM331 382h1v1h-1zM331 383h1v1h-1zM331 384h1v1h-1zM331 387h1v1h-1zM331 389h1v1h-1zM331 393h1v1h-1zM331 395h1v1h-1zM332 373h1v1h-1zM332 375h1v1h-1zM332 376h1v1h-1zM332 377h1v1h-1zM332 378h1v1h-1zM332 381h1v1h-1zM332 382h1v1h-1zM332 383h1v1h-1zM332 384h1v1h-1zM332 386h1v1h-1zM332 387h1v1h-1zM332 388h1v1h-1zM332 390h1v1h-1zM332 392h1v1h-1zM332 394h1v1h-1zM333 372h1v1h-1zM333 376h1v1h-1zM333 380h1v1h-1zM333 381h1v1h-1zM333 384h1v1h-1zM333 385h1v1h-1zM333 388h1v1h-1zM333 389h1v1h-1zM333 390h1v1h-1zM333 391h1v1h-1zM333 392h1v1h-1zM333 393h1v1h-1zM334 377h1v1h-1zM334 382h1v1h-1zM334 383h1v1h-1zM334 385h1v1h-1zM334 386h1v1h-1zM334 389h1v1h-1zM334 391h1v1h-1zM335 374h1v1h-1zM335 375h1v1h-1zM335 383h1v1h-1zM335 387h1v1h-1zM335 389h1v1h-1zM336 373h1v1h-1zM336 374h1v1h-1zM336 375h1v1h-1zM336 376h1v1h-1zM336 378h1v1h-1zM336 383h1v1h-1zM337 377h1v1h-1zM337 379h1v1h-1zM338 380h1v1h-1zM339 375h1v1h-1z"/>
<rect x="305.4" y="345.2" width="63.30000000000001" height="57.5" fill="none" stroke="#555" stroke-width="0.9"/>
<line x1="302.70" y1="345.20" x2="305.40" y2="345.20" stroke="#555" stroke-width="0.9" />
<line x1="322.30" y1="345.20" x2="322.30" y2="402.70" stroke="#555" stroke-width="0.9" />
<line x1="305.40" y1="385.40" x2="368.70" y2="385.40" stroke="#555" stroke-width="0.9" />
<path fill="none" stroke="#222" stroke-width="0.85" d="M302.7 402.7h2.7M305.4 402.2v2.0M303.2 398.4h2.2M310.2 402.2v2.0M303.2 395.8h2.2M313.0 402.2v2.0M303.2 394.0h2.2M314.9 402.2v2.0M303.2 392.7h2.2M316.5 402.2v2.0M303.2 391.5h2.2M317.7 402.2v2.0M303.2 390.6h2.2M318.8 402.2v2.0M303.2 389.7h2.2M319.7 402.2v2.0M303.2 389.0h2.2M320.5 402.2v2.0M302.7 388.3h2.7M321.2 402.2v2.0M303.2 384.0h2.2M326.0 402.2v2.0M303.2 381.5h2.2M328.8 402.2v2.0M303.2 379.7h2.2M330.8 402.2v2.0M303.2 378.3h2.2M332.3 402.2v2.0M303.2 377.1h2.2M333.5 402.2v2.0M303.2 376.2h2.2M334.6 402.2v2.0M303.2 375.3h2.2M335.5 402.2v2.0M303.2 374.6h2.2M336.3 402.2v2.0M302.7 373.9h2.7M337.0 402.2v2.0M303.2 369.6h2.2M341.8 402.2v2.0M303.2 367.1h2.2M344.6 402.2v2.0M303.2 365.3h2.2M346.6 402.2v2.0M303.2 363.9h2.2M348.1 402.2v2.0M303.2 362.8h2.2M349.4 402.2v2.0M303.2 361.8h2.2M350.4 402.2v2.0M303.2 361.0h2.2M351.3 402.2v2.0M303.2 360.2h2.2M352.2 402.2v2.0M302.7 359.6h2.7M352.9 402.2v2.0M303.2 355.2h2.2M357.6 402.2v2.0M303.2 352.7h2.2M360.4 402.2v2.0M303.2 350.9h2.2M362.4 402.2v2.0M303.2 349.5h2.2M363.9 402.2v2.0M303.2 348.4h2.2M365.2 402.2v2.0M303.2 347.4h2.2M366.2 402.2v2.0M303.2 346.6h2.2M367.2 402.2v2.0"/>
<text x="315.6" y="354.8" font-size="8.6" text-anchor="middle" >14</text>
<text x="358.4" y="354.8" font-size="8.6" text-anchor="middle" >24</text>
<text x="360" y="395.8" font-size="8.6" text-anchor="middle" >22</text>
<path fill="#666" d="M242 472h1v1h-1zM242 474h1v1h-1zM244 471h1v1h-1zM250 461h1v1h-1zM253 460h1v1h-1zM254 462h1v1h-1zM256 461h1v1h-1zM259 442h1v1h-1zM263 467h1v1h-1zM264 457h1v1h-1zM270 459h1v1h-1zM277 453h1v1h-1zM278 438h1v1h-1zM285 463h1v1h-1z"/>
<path fill="#000" d="M240 476h1v1h-1zM241 469h1v1h-1zM242 469h1v1h-1zM242 471h1v1h-1zM242 472h1v1h-1zM242 473h1v1h-1zM242 476h1v1h-1zM243 465h1v1h-1zM243 467h1v1h-1zM243 468h1v1h-1zM243 471h1v1h-1zM243 474h1v1h-1zM243 475h1v1h-1zM243 478h1v1h-1zM244 466h1v1h-1zM244 467h1v1h-1zM244 468h1v1h-1zM244 469h1v1h-1zM244 470h1v1h-1zM244 471h1v1h-1zM244 472h1v1h-1zM244 474h1v1h-1zM244 477h1v1h-1zM245 461h1v1h-1zM245 462h1v1h-1zM245 464h1v1h-1zM245 465h1v1h-1zM245 466h1v1h-1zM245 467h1v1h-1zM245 468h1v1h-1zM245 469h1v1h-1zM245 470h1v1h-1zM245 471h1v1h-1zM245 472h1v1h-1zM245 474h1v1h-1zM245 475h1v1h-1zM245 477h1v1h-1zM246 463h1v1h-1zM246 464h1v1h-1zM246 466h1v1h-1zM246 468h1v1h-1zM246 469h1v1h-1zM246 470h1v1h-1zM246 472h1v1h-1zM246 474h1v1h-1zM246 476h1v1h-1zM246 477h1v1h-1zM247 461h1v1h-1zM247 462h1v1h-1zM247 464h1v1h-1zM247 466h1v1h-1zM247 467h1v1h-1zM247 468h1v1h-1zM247 469h1v1h-1zM247 470h1v1h-1zM247 471h1v1h-1zM247 472h1v1h-1zM247 476h1v1h-1zM247 477h1v1h-1zM248 460h1v1h-1zM248 462h1v1h-1zM248 463h1v1h-1zM248 465h1v1h-1zM248 466h1v1h-1zM248 468h1v1h-1zM248 469h1v1h-1zM248 470h1v1h-1zM248 471h1v1h-1zM248 472h1v1h-1zM248 473h1v1h-1zM248 474h1v1h-1zM248 475h1v1h-1zM248 476h1v1h-1zM249 459h1v1h-1zM249 460h1v1h-1zM249 462h1v1h-1zM249 463h1v1h-1zM249 464h1v1h-1zM249 465h1v1h-1zM249 466h1v1h-1zM249 467h1v1h-1zM249 469h1v1h-1zM249 470h1v1h-1zM249 471h1v1h-1zM249 472h1v1h-1zM249 473h1v1h-1zM249 474h1v1h-1zM249 476h1v1h-1zM249 477h1v1h-1zM249 479h1v1h-1zM250 459h1v1h-1zM250 460h1v1h-1zM250 461h1v1h-1zM250 462h1v1h-1zM250 464h1v1h-1zM250 465h1v1h-1zM250 466h1v1h-1zM250 467h1v1h-1zM250 469h1v1h-1zM250 470h1v1h-1zM250 471h1v1h-1zM250 472h1v1h-1zM250 473h1v1h-1zM250 475h1v1h-1zM250 477h1v1h-1zM251 459h1v1h-1zM251 460h1v1h-1zM251 462h1v1h-1zM251 463h1v1h-1zM251 464h1v1h-1zM251 465h1v1h-1zM251 466h1v1h-1zM251 467h1v1h-1zM251 468h1v1h-1zM251 469h1v1h-1zM251 470h1v1h-1zM251 471h1v1h-1zM251 472h1v1h-1zM251 473h1v1h-1zM251 474h1v1h-1zM251 475h1v1h-1zM251 476h1v1h-1zM251 478h1v1h-1zM252 459h1v1h-1zM252 461h1v1h-1zM252 462h1v1h-1zM252 463h1v1h-1zM252 466h1v1h-1zM252 467h1v1h-1zM252 469h1v1h-1zM252 470h1v1h-1zM252 471h1v1h-1zM252 472h1v1h-1zM252 473h1v1h-1zM252 474h1v1h-1zM252 475h1v1h-1zM252 478h1v1h-1zM253 458h1v1h-1zM253 459h1v1h-1zM253 460h1v1h-1zM253 461h1v1h-1zM253 462h1v1h-1zM253 463h1v1h-1zM253 464h1v1h-1zM253 466h1v1h-1zM253 467h1v1h-1zM253 469h1v1h-1zM253 471h1v1h-1zM253 472h1v1h-1zM253 473h1v1h-1zM253 474h1v1h-1zM253 475h1v1h-1zM253 476h1v1h-1zM253 478h1v1h-1zM254 457h1v1h-1zM254 458h1v1h-1zM254 459h1v1h-1zM254 460h1v1h-1zM254 461h1v1h-1zM254 462h1v1h-1zM254 463h1v1h-1zM254 464h1v1h-1zM254 465h1v1h-1zM254 466h1v1h-1zM254 467h1v1h-1zM254 468h1v1h-1zM254 469h1v1h-1zM254 470h1v1h-1zM254 471h1v1h-1zM254 472h1v1h-1zM254 473h1v1h-1zM254 474h1v1h-1zM254 475h1v1h-1zM254 476h1v1h-1zM255 457h1v1h-1zM255 458h1v1h-1zM255 459h1v1h-1zM255 460h1v1h-1zM255 461h1v1h-1zM255 462h1v1h-1zM255 463h1v1h-1zM255 464h1v1h-1zM255 465h1v1h-1zM255 467h1v1h-1zM255 468h1v1h-1zM255 469h1v1h-1zM255 470h1v1h-1zM255 471h1v1h-1zM255 472h1v1h-1zM255 473h1v1h-1zM255 474h1v1h-1zM255 475h1v1h-1zM255 478h1v1h-1zM256 456h1v1h-1zM256 457h1v1h-1zM256 458h1v1h-1zM256 459h1v1h-1zM256 460h1v1h-1zM256 461h1v1h-1zM256 464h1v1h-1zM256 465h1v1h-1zM256 466h1v1h-1zM256 467h1v1h-1zM256 468h1v1h-1zM256 469h1v1h-1zM256 471h1v1h-1zM256 472h1v1h-1zM256 473h1v1h-1zM256 474h1v1h-1zM256 475h1v1h-1zM257 456h1v1h-1zM257 457h1v1h-1zM257 458h1v1h-1zM257 459h1v1h-1zM257 460h1v1h-1zM257 461h1v1h-1zM257 463h1v1h-1zM257 464h1v1h-1zM257 466h1v1h-1zM257 467h1v1h-1zM257 469h1v1h-1zM257 470h1v1h-1zM257 472h1v1h-1zM257 473h1v1h-1zM257 474h1v1h-1zM258 458h1v1h-1zM258 461h1v1h-1zM258 462h1v1h-1zM258 463h1v1h-1zM258 465h1v1h-1zM258 466h1v1h-1zM258 467h1v1h-1zM258 469h1v1h-1zM258 471h1v1h-1zM258 472h1v1h-1zM258 473h1v1h-1zM258 475h1v1h-1zM258 476h1v1h-1zM259 456h1v1h-1zM259 457h1v1h-1zM259 458h1v1h-1zM259 459h1v1h-1zM259 460h1v1h-1zM259 461h1v1h-1zM259 463h1v1h-1zM259 464h1v1h-1zM259 465h1v1h-1zM259 466h1v1h-1zM259 467h1v1h-1zM259 469h1v1h-1zM259 470h1v1h-1zM259 471h1v1h-1zM259 473h1v1h-1zM259 474h1v1h-1zM259 475h1v1h-1zM260 455h1v1h-1zM260 456h1v1h-1zM260 457h1v1h-1zM260 459h1v1h-1zM260 460h1v1h-1zM260 461h1v1h-1zM260 462h1v1h-1zM260 466h1v1h-1zM260 467h1v1h-1zM260 468h1v1h-1zM260 469h1v1h-1zM260 470h1v1h-1zM260 471h1v1h-1zM260 472h1v1h-1zM260 473h1v1h-1zM260 474h1v1h-1zM261 456h1v1h-1zM261 458h1v1h-1zM261 459h1v1h-1zM261 460h1v1h-1zM261 461h1v1h-1zM261 462h1v1h-1zM261 463h1v1h-1zM261 464h1v1h-1zM261 467h1v1h-1zM261 469h1v1h-1zM261 470h1v1h-1zM261 471h1v1h-1zM261 472h1v1h-1zM261 473h1v1h-1zM262 455h1v1h-1zM262 456h1v1h-1zM262 457h1v1h-1zM262 459h1v1h-1zM262 460h1v1h-1zM262 461h1v1h-1zM262 462h1v1h-1zM262 463h1v1h-1zM262 464h1v1h-1zM262 466h1v1h-1zM262 467h1v1h-1zM262 468h1v1h-1zM262 469h1v1h-1zM262 470h1v1h-1zM262 472h1v1h-1zM262 474h1v1h-1zM263 454h1v1h-1zM263 458h1v1h-1zM263 462h1v1h-1zM263 463h1v1h-1zM263 464h1v1h-1zM263 465h1v1h-1zM263 466h1v1h-1zM263 468h1v1h-1zM263 469h1v1h-1zM263 470h1v1h-1zM263 471h1v1h-1zM263 473h1v1h-1zM264 455h1v1h-1zM264 457h1v1h-1zM264 458h1v1h-1zM264 459h1v1h-1zM264 460h1v1h-1zM264 461h1v1h-1zM264 462h1v1h-1zM264 463h1v1h-1zM264 465h1v1h-1zM264 467h1v1h-1zM264 468h1v1h-1zM264 469h1v1h-1zM264 470h1v1h-1zM264 471h1v1h-1zM264 472h1v1h-1zM265 454h1v1h-1zM265 456h1v1h-1zM265 457h1v1h-1zM265 458h1v1h-1zM265 459h1v1h-1zM265 460h1v1h-1zM265 462h1v1h-1zM265 463h1v1h-1zM265 464h1v1h-1zM265 465h1v1h-1zM265 466h1v1h-1zM265 467h1v1h-1zM265 469h1v1h-1zM265 470h1v1h-1zM265 471h1v1h-1zM265 472h1v1h-1zM265 474h1v1h-1zM266 456h1v1h-1zM266 457h1v1h-1zM266 458h1v1h-1zM266 459h1v1h-1zM266 460h1v1h-1zM266 461h1v1h-1zM266 462h1v1h-1zM266 463h1v1h-1zM266 464h1v1h-1zM266 465h1v1h-1zM266 466h1v1h-1zM266 468h1v1h-1zM266 469h1v1h-1zM266 470h1v1h-1zM266 471h1v1h-1zM267 456h1v1h-1zM267 457h1v1h-1zM267 458h1v1h-1zM267 459h1v1h-1zM267 460h1v1h-1zM267 461h1v1h-1zM267 462h1v1h-1zM267 463h1v1h-1zM267 464h1v1h-1zM267 465h1v1h-1zM267 466h1v1h-1zM267 467h1v1h-1zM267 468h1v1h-1zM267 469h1v1h-1zM267 470h1v1h-1zM268 456h1v1h-1zM268 457h1v1h-1zM268 458h1v1h-1zM268 459h1v1h-1zM268 462h1v1h-1zM268 463h1v1h-1zM268 464h1v1h-1zM268 466h1v1h-1zM268 468h1v1h-1zM268 469h1v1h-1zM268 470h1v1h-1zM268 471h1v1h-1zM268 472h1v1h-1zM268 473h1v1h-1zM269 459h1v1h-1zM269 460h1v1h-1zM269 462h1v1h-1zM269 463h1v1h-1zM269 465h1v1h-1zM269 466h1v1h-1zM269 468h1v1h-1zM269 470h1v1h-1zM269 471h1v1h-1zM270 458h1v1h-1zM270 461h1v1h-1zM270 462h1v1h-1zM270 463h1v1h-1zM270 464h1v1h-1zM270 465h1v1h-1zM270 466h1v1h-1zM270 467h1v1h-1zM270 468h1v1h-1zM270 469h1v1h-1zM270 470h1v1h-1zM271 457h1v1h-1zM271 459h1v1h-1zM271 460h1v1h-1zM271 461h1v1h-1zM271 462h1v1h-1zM271 463h1v1h-1zM271 464h1v1h-1zM271 465h1v1h-1zM271 466h1v1h-1zM271 467h1v1h-1zM271 468h1v1h-1zM271 469h1v1h-1zM272 460h1v1h-1zM272 461h1v1h-1zM272 462h1v1h-1zM272 463h1v1h-1zM272 464h1v1h-1zM272 465h1v1h-1zM272 466h1v1h-1zM272 468h1v1h-1zM273 459h1v1h-1zM273 460h1v1h-1zM273 461h1v1h-1zM273 462h1v1h-1zM273 463h1v1h-1zM273 466h1v1h-1zM274 460h1v1h-1zM274 463h1v1h-1zM274 464h1v1h-1zM275 463h1v1h-1z"/>
<rect x="237.0" y="423.3" width="63.19999999999999" height="57.69999999999999" fill="none" stroke="#555" stroke-width="0.9"/>
<line x1="234.30" y1="423.30" x2="237.00" y2="423.30" stroke="#555" stroke-width="0.9" />
<line x1="252.00" y1="423.30" x2="252.00" y2="481.00" stroke="#555" stroke-width="0.9" />
<line x1="237.00" y1="463.50" x2="300.20" y2="463.50" stroke="#555" stroke-width="0.9" />
<path fill="none" stroke="#222" stroke-width="0.85" d="M234.3 481.0h2.7M237.0 480.5v2.0M234.8 476.7h2.2M241.8 480.5v2.0M234.8 474.1h2.2M244.5 480.5v2.0M234.8 472.3h2.2M246.5 480.5v2.0M234.8 470.9h2.2M248.0 480.5v2.0M234.8 469.8h2.2M249.3 480.5v2.0M234.8 468.8h2.2M250.4 480.5v2.0M234.8 468.0h2.2M251.3 480.5v2.0M234.8 467.2h2.2M252.1 480.5v2.0M234.3 466.6h2.7M252.8 480.5v2.0M234.8 462.2h2.2M257.6 480.5v2.0M234.8 459.7h2.2M260.3 480.5v2.0M234.8 457.9h2.2M262.3 480.5v2.0M234.8 456.5h2.2M263.8 480.5v2.0M234.8 455.4h2.2M265.1 480.5v2.0M234.8 454.4h2.2M266.2 480.5v2.0M234.8 453.5h2.2M267.1 480.5v2.0M234.8 452.8h2.2M267.9 480.5v2.0M234.3 452.1h2.7M268.6 480.5v2.0M234.8 447.8h2.2M273.4 480.5v2.0M234.8 445.3h2.2M276.1 480.5v2.0M234.8 443.5h2.2M278.1 480.5v2.0M234.8 442.1h2.2M279.6 480.5v2.0M234.8 440.9h2.2M280.9 480.5v2.0M234.8 440.0h2.2M282.0 480.5v2.0M234.8 439.1h2.2M282.9 480.5v2.0M234.8 438.4h2.2M283.7 480.5v2.0M234.3 437.7h2.7M284.4 480.5v2.0M234.8 433.4h2.2M289.2 480.5v2.0M234.8 430.8h2.2M291.9 480.5v2.0M234.8 429.0h2.2M293.9 480.5v2.0M234.8 427.6h2.2M295.4 480.5v2.0M234.8 426.5h2.2M296.7 480.5v2.0M234.8 425.5h2.2M297.8 480.5v2.0M234.8 424.7h2.2M298.7 480.5v2.0"/>
<text x="243" y="433.6" font-size="8.6" text-anchor="middle" >4</text>
<text x="287.7" y="433.6" font-size="8.6" text-anchor="middle" >10</text>
<text x="289.8" y="474.4" font-size="8.6" text-anchor="middle" >51</text>
<path fill="#666" d="M310 471h1v1h-1zM311 451h1v1h-1zM311 472h1v1h-1zM312 476h1v1h-1zM313 458h1v1h-1zM315 428h1v1h-1zM316 466h1v1h-1zM317 464h1v1h-1zM325 476h1v1h-1zM326 468h1v1h-1zM329 445h1v1h-1zM330 449h1v1h-1zM330 470h1v1h-1zM340 465h1v1h-1zM341 439h1v1h-1zM352 456h1v1h-1z"/>
<path fill="#000" d="M305 467h1v1h-1zM305 471h1v1h-1zM306 459h1v1h-1zM306 460h1v1h-1zM306 463h1v1h-1zM306 466h1v1h-1zM306 467h1v1h-1zM306 468h1v1h-1zM306 469h1v1h-1zM306 470h1v1h-1zM306 471h1v1h-1zM306 472h1v1h-1zM306 473h1v1h-1zM306 474h1v1h-1zM306 476h1v1h-1zM307 459h1v1h-1zM307 460h1v1h-1zM307 461h1v1h-1zM307 462h1v1h-1zM307 463h1v1h-1zM307 464h1v1h-1zM307 465h1v1h-1zM307 466h1v1h-1zM307 467h1v1h-1zM307 469h1v1h-1zM307 470h1v1h-1zM307 471h1v1h-1zM307 472h1v1h-1zM307 473h1v1h-1zM307 474h1v1h-1zM307 476h1v1h-1zM308 455h1v1h-1zM308 457h1v1h-1zM308 459h1v1h-1zM308 460h1v1h-1zM308 461h1v1h-1zM308 462h1v1h-1zM308 463h1v1h-1zM308 464h1v1h-1zM308 465h1v1h-1zM308 466h1v1h-1zM308 467h1v1h-1zM308 468h1v1h-1zM308 470h1v1h-1zM308 471h1v1h-1zM308 472h1v1h-1zM308 474h1v1h-1zM308 475h1v1h-1zM308 476h1v1h-1zM309 458h1v1h-1zM309 459h1v1h-1zM309 461h1v1h-1zM309 462h1v1h-1zM309 464h1v1h-1zM309 465h1v1h-1zM309 466h1v1h-1zM309 468h1v1h-1zM309 469h1v1h-1zM309 470h1v1h-1zM309 471h1v1h-1zM309 472h1v1h-1zM309 473h1v1h-1zM309 474h1v1h-1zM309 476h1v1h-1zM309 478h1v1h-1zM310 455h1v1h-1zM310 459h1v1h-1zM310 461h1v1h-1zM310 462h1v1h-1zM310 464h1v1h-1zM310 465h1v1h-1zM310 466h1v1h-1zM310 467h1v1h-1zM310 468h1v1h-1zM310 469h1v1h-1zM310 470h1v1h-1zM310 471h1v1h-1zM310 472h1v1h-1zM310 473h1v1h-1zM310 474h1v1h-1zM310 475h1v1h-1zM310 476h1v1h-1zM310 477h1v1h-1zM310 478h1v1h-1zM311 457h1v1h-1zM311 458h1v1h-1zM311 459h1v1h-1zM311 460h1v1h-1zM311 462h1v1h-1zM311 463h1v1h-1zM311 464h1v1h-1zM311 465h1v1h-1zM311 468h1v1h-1zM311 469h1v1h-1zM311 470h1v1h-1zM311 471h1v1h-1zM311 472h1v1h-1zM311 473h1v1h-1zM311 474h1v1h-1zM311 475h1v1h-1zM311 476h1v1h-1zM311 479h1v1h-1zM312 456h1v1h-1zM312 458h1v1h-1zM312 459h1v1h-1zM312 460h1v1h-1zM312 462h1v1h-1zM312 463h1v1h-1zM312 464h1v1h-1zM312 465h1v1h-1zM312 466h1v1h-1zM312 467h1v1h-1zM312 468h1v1h-1zM312 469h1v1h-1zM312 470h1v1h-1zM312 471h1v1h-1zM312 472h1v1h-1zM312 473h1v1h-1zM312 474h1v1h-1zM312 476h1v1h-1zM312 477h1v1h-1zM312 478h1v1h-1zM313 456h1v1h-1zM313 457h1v1h-1zM313 458h1v1h-1zM313 459h1v1h-1zM313 460h1v1h-1zM313 461h1v1h-1zM313 462h1v1h-1zM313 463h1v1h-1zM313 464h1v1h-1zM313 465h1v1h-1zM313 466h1v1h-1zM313 467h1v1h-1zM313 468h1v1h-1zM313 469h1v1h-1zM313 470h1v1h-1zM313 471h1v1h-1zM313 472h1v1h-1zM313 473h1v1h-1zM313 474h1v1h-1zM313 475h1v1h-1zM313 476h1v1h-1zM313 477h1v1h-1zM313 479h1v1h-1zM314 455h1v1h-1zM314 456h1v1h-1zM314 457h1v1h-1zM314 459h1v1h-1zM314 460h1v1h-1zM314 461h1v1h-1zM314 462h1v1h-1zM314 463h1v1h-1zM314 464h1v1h-1zM314 465h1v1h-1zM314 466h1v1h-1zM314 467h1v1h-1zM314 468h1v1h-1zM314 469h1v1h-1zM314 470h1v1h-1zM314 471h1v1h-1zM314 472h1v1h-1zM314 473h1v1h-1zM314 474h1v1h-1zM314 475h1v1h-1zM314 476h1v1h-1zM314 478h1v1h-1zM314 479h1v1h-1zM315 456h1v1h-1zM315 457h1v1h-1zM315 459h1v1h-1zM315 461h1v1h-1zM315 462h1v1h-1zM315 463h1v1h-1zM315 464h1v1h-1zM315 466h1v1h-1zM315 467h1v1h-1zM315 468h1v1h-1zM315 469h1v1h-1zM315 471h1v1h-1zM315 472h1v1h-1zM315 473h1v1h-1zM315 474h1v1h-1zM315 475h1v1h-1zM315 476h1v1h-1zM315 477h1v1h-1zM315 478h1v1h-1zM315 479h1v1h-1zM316 456h1v1h-1zM316 457h1v1h-1zM316 458h1v1h-1zM316 459h1v1h-1zM316 460h1v1h-1zM316 461h1v1h-1zM316 462h1v1h-1zM316 463h1v1h-1zM316 464h1v1h-1zM316 465h1v1h-1zM316 466h1v1h-1zM316 467h1v1h-1zM316 468h1v1h-1zM316 469h1v1h-1zM316 472h1v1h-1zM316 474h1v1h-1zM316 475h1v1h-1zM316 477h1v1h-1zM317 456h1v1h-1zM317 457h1v1h-1zM317 458h1v1h-1zM317 459h1v1h-1zM317 460h1v1h-1zM317 461h1v1h-1zM317 462h1v1h-1zM317 463h1v1h-1zM317 464h1v1h-1zM317 465h1v1h-1zM317 466h1v1h-1zM317 467h1v1h-1zM317 468h1v1h-1zM317 470h1v1h-1zM317 471h1v1h-1zM317 472h1v1h-1zM317 473h1v1h-1zM317 474h1v1h-1zM317 475h1v1h-1zM317 476h1v1h-1zM317 477h1v1h-1zM317 478h1v1h-1zM317 479h1v1h-1zM318 456h1v1h-1zM318 458h1v1h-1zM318 459h1v1h-1zM318 460h1v1h-1zM318 461h1v1h-1zM318 462h1v1h-1zM318 464h1v1h-1zM318 465h1v1h-1zM318 466h1v1h-1zM318 467h1v1h-1zM318 468h1v1h-1zM318 469h1v1h-1zM318 471h1v1h-1zM318 472h1v1h-1zM318 473h1v1h-1zM318 474h1v1h-1zM318 476h1v1h-1zM318 477h1v1h-1zM318 478h1v1h-1zM319 456h1v1h-1zM319 457h1v1h-1zM319 458h1v1h-1zM319 460h1v1h-1zM319 461h1v1h-1zM319 462h1v1h-1zM319 463h1v1h-1zM319 464h1v1h-1zM319 465h1v1h-1zM319 467h1v1h-1zM319 468h1v1h-1zM319 469h1v1h-1zM319 470h1v1h-1zM319 471h1v1h-1zM319 472h1v1h-1zM319 474h1v1h-1zM319 476h1v1h-1zM319 477h1v1h-1zM320 457h1v1h-1zM320 458h1v1h-1zM320 459h1v1h-1zM320 460h1v1h-1zM320 461h1v1h-1zM320 462h1v1h-1zM320 463h1v1h-1zM320 464h1v1h-1zM320 465h1v1h-1zM320 466h1v1h-1zM320 467h1v1h-1zM320 468h1v1h-1zM320 469h1v1h-1zM320 470h1v1h-1zM320 471h1v1h-1zM320 472h1v1h-1zM320 473h1v1h-1zM320 474h1v1h-1zM320 475h1v1h-1zM320 476h1v1h-1zM320 477h1v1h-1zM320 478h1v1h-1zM321 457h1v1h-1zM321 459h1v1h-1zM321 460h1v1h-1zM321 462h1v1h-1zM321 463h1v1h-1zM321 465h1v1h-1zM321 466h1v1h-1zM321 468h1v1h-1zM321 469h1v1h-1zM321 470h1v1h-1zM321 472h1v1h-1zM321 473h1v1h-1zM321 474h1v1h-1zM321 475h1v1h-1zM321 476h1v1h-1zM321 477h1v1h-1zM322 458h1v1h-1zM322 462h1v1h-1zM322 464h1v1h-1zM322 465h1v1h-1zM322 466h1v1h-1zM322 467h1v1h-1zM322 468h1v1h-1zM322 469h1v1h-1zM322 470h1v1h-1zM322 471h1v1h-1zM322 472h1v1h-1zM322 473h1v1h-1zM322 475h1v1h-1zM323 462h1v1h-1zM323 463h1v1h-1zM323 464h1v1h-1zM323 465h1v1h-1zM323 466h1v1h-1zM323 468h1v1h-1zM323 470h1v1h-1zM323 471h1v1h-1zM323 472h1v1h-1zM323 474h1v1h-1zM323 476h1v1h-1zM324 460h1v1h-1zM324 463h1v1h-1zM324 465h1v1h-1zM324 466h1v1h-1zM324 471h1v1h-1zM324 475h1v1h-1zM325 466h1v1h-1zM325 467h1v1h-1z"/>
<rect x="305.4" y="424.5" width="64.20000000000005" height="56.5" fill="none" stroke="#555" stroke-width="0.9"/>
<line x1="302.70" y1="424.50" x2="305.40" y2="424.50" stroke="#555" stroke-width="0.9" />
<line x1="320.80" y1="424.50" x2="320.80" y2="481.00" stroke="#555" stroke-width="0.9" />
<line x1="305.40" y1="464.10" x2="369.60" y2="464.10" stroke="#555" stroke-width="0.9" />
<path fill="none" stroke="#222" stroke-width="0.85" d="M302.7 481.0h2.7M305.4 480.5v2.0M303.2 476.7h2.2M310.2 480.5v2.0M303.2 474.3h2.2M313.1 480.5v2.0M303.2 472.5h2.2M315.1 480.5v2.0M303.2 471.1h2.2M316.6 480.5v2.0M303.2 470.0h2.2M317.9 480.5v2.0M303.2 469.1h2.2M319.0 480.5v2.0M303.2 468.2h2.2M319.9 480.5v2.0M303.2 467.5h2.2M320.7 480.5v2.0M302.7 466.9h2.7M321.4 480.5v2.0M303.2 462.6h2.2M326.3 480.5v2.0M303.2 460.1h2.2M329.1 480.5v2.0M303.2 458.4h2.2M331.1 480.5v2.0M303.2 457.0h2.2M332.7 480.5v2.0M303.2 455.9h2.2M333.9 480.5v2.0M303.2 454.9h2.2M335.0 480.5v2.0M303.2 454.1h2.2M335.9 480.5v2.0M303.2 453.4h2.2M336.8 480.5v2.0M302.7 452.8h2.7M337.5 480.5v2.0M303.2 448.5h2.2M342.3 480.5v2.0M303.2 446.0h2.2M345.2 480.5v2.0M303.2 444.2h2.2M347.2 480.5v2.0M303.2 442.9h2.2M348.7 480.5v2.0M303.2 441.8h2.2M350.0 480.5v2.0M303.2 440.8h2.2M351.1 480.5v2.0M303.2 440.0h2.2M352.0 480.5v2.0M303.2 439.3h2.2M352.8 480.5v2.0M302.7 438.6h2.7M353.6 480.5v2.0M303.2 434.4h2.2M358.4 480.5v2.0M303.2 431.9h2.2M361.2 480.5v2.0M303.2 430.1h2.2M363.2 480.5v2.0M303.2 428.8h2.2M364.8 480.5v2.0M303.2 427.6h2.2M366.0 480.5v2.0M303.2 426.7h2.2M367.1 480.5v2.0M303.2 425.9h2.2M368.0 480.5v2.0"/>
<text x="315.1" y="434.0" font-size="8.6" text-anchor="middle" >10</text>
<text x="354.9" y="434.0" font-size="8.6" text-anchor="middle" >1</text>
<text x="357.5" y="474.4" font-size="8.6" text-anchor="middle" >3</text>
<line x1="228.80" y1="328.80" x2="228.80" y2="282.00" stroke="#555" stroke-width="1.1" />
<path fill="#111" d="M227.3 288.0L228.8 276.0L230.3 288.0z"/>
<line x1="228.80" y1="328.80" x2="296.00" y2="328.80" stroke="#555" stroke-width="1.1" />
<path fill="#111" d="M291 327.3L302 328.8L291 330.3z"/>
<line x1="228.50" y1="406.20" x2="228.50" y2="361.00" stroke="#555" stroke-width="1.1" />
<path fill="#111" d="M227.0 367.0L228.5 355.0L230.0 367.0z"/>
<line x1="228.50" y1="406.20" x2="295.50" y2="406.20" stroke="#555" stroke-width="1.1" />
<path fill="#111" d="M290.5 404.7L301.5 406.2L290.5 407.7z"/>
<line x1="230.60" y1="485.10" x2="230.60" y2="439.20" stroke="#555" stroke-width="1.1" />
<path fill="#111" d="M229.1 445.2L230.6 433.2L232.1 445.2z"/>
<line x1="230.60" y1="485.10" x2="297.20" y2="485.10" stroke="#555" stroke-width="1.1" />
<path fill="#111" d="M292.2 483.6L303.2 485.1L292.2 486.6z"/>
<text x="231.5" y="340.4" font-size="9.1" >CD25</text>
<text x="234.9" y="418.3" font-size="8.7" >CTLA4</text>
<text x="233.2" y="498" font-size="8.9" >CD70</text>
<text x="223.5" y="309.2" font-size="9.2" text-anchor="middle" transform="rotate(-90 223.5 309.2)" >CD154</text>
<text x="223.5" y="389.5" font-size="9.6" text-anchor="middle" transform="rotate(-90 223.5 389.5)" >IL-10</text>
<text x="223.5" y="468.6" font-size="9.6" text-anchor="middle" transform="rotate(-90 223.5 468.6)" >CD69</text>
<polygon fill="#000" points="381,302.5 381,301 383,297 385,291 387,282 388.8,274 389.8,271.8 390.6,274 391.6,282 393,291 394.5,296.5 396,298.5 398,299.5 401,300.5 404,301.5 406,302.5"/>
<rect x="381.00" y="269.50" width="52.30" height="33.70" fill="none" stroke="#666" stroke-width="1"/>
<line x1="394.60" y1="269.50" x2="394.60" y2="303.20" stroke="#333" stroke-width="0.9" stroke-dasharray="1.6 0.9"/>
<path fill="none" stroke="#000" stroke-width="1.4" d="M381.0 301.6h1.6M384.9 301.6h0.9M387.2 301.6h0.9M388.9 301.6h0.9M390.1 301.6h0.9M391.2 301.6h0.9M392.0 301.6h0.9M392.8 301.6h0.9M393.5 301.6h0.9M394.1 301.6h1.6M398.0 301.6h0.9M400.3 301.6h0.9M401.9 301.6h0.9M403.2 301.6h0.9M404.2 301.6h0.9M405.1 301.6h0.9M405.9 301.6h0.9M406.6 301.6h0.9M407.1 301.6h1.6M411.1 301.6h0.9M413.4 301.6h0.9M415.0 301.6h0.9M416.3 301.6h0.9M417.3 301.6h0.9M418.2 301.6h0.9M419.0 301.6h0.9M419.6 301.6h0.9M420.2 301.6h1.6M424.2 301.6h0.9M426.5 301.6h0.9M428.1 301.6h0.9M429.4 301.6h0.9M430.4 301.6h0.9M431.3 301.6h0.9M432.0 301.6h0.9M432.7 301.6h0.9"/>
<text x="402.3" y="285.5" font-size="9.3" text-anchor="middle" >1</text>
<polygon fill="#000" points="435.2,302.5 435.2,292 437,286 438.5,281 440,276 441.5,273.2 442.5,275 443.5,279 444.5,283 445.5,286 446.5,290 447.5,295 448.5,299 449.5,301.5 451,302.5"/>
<rect x="435.20" y="269.40" width="52.30" height="33.40" fill="none" stroke="#666" stroke-width="1"/>
<line x1="449.00" y1="269.40" x2="449.00" y2="302.80" stroke="#333" stroke-width="0.9" stroke-dasharray="1.6 0.9"/>
<path fill="none" stroke="#000" stroke-width="1.4" d="M435.2 301.2h1.6M439.1 301.2h0.9M441.4 301.2h0.9M443.1 301.2h0.9M444.3 301.2h0.9M445.4 301.2h0.9M446.2 301.2h0.9M447.0 301.2h0.9M447.7 301.2h0.9M448.3 301.2h1.6M452.2 301.2h0.9M454.5 301.2h0.9M456.1 301.2h0.9M457.4 301.2h0.9M458.4 301.2h0.9M459.3 301.2h0.9M460.1 301.2h0.9M460.8 301.2h0.9M461.4 301.2h1.6M465.3 301.2h0.9M467.6 301.2h0.9M469.2 301.2h0.9M470.5 301.2h0.9M471.5 301.2h0.9M472.4 301.2h0.9M473.2 301.2h0.9M473.8 301.2h0.9M474.4 301.2h1.6M478.4 301.2h0.9M480.7 301.2h0.9M482.3 301.2h0.9M483.6 301.2h0.9M484.6 301.2h0.9M485.5 301.2h0.9M486.2 301.2h0.9M486.9 301.2h0.9"/>
<text x="460.1" y="287.3" font-size="8.8" text-anchor="middle" >&lt;1</text>
<polygon fill="#000" points="381.1,337.8 381.1,333.5 385,332 387.2,328.7 389.4,319.8 391.2,312 392.1,310.9 393.4,317.6 395,326.5 396.5,329.8 398.3,331 400,329.2 401.7,328.7 403.2,329.8 405,332 407.2,334.3 409.5,335 411.7,335.9 414,336.5 418,337 424,337.8"/>
<rect x="381.10" y="304.30" width="52.40" height="33.90" fill="none" stroke="#666" stroke-width="1"/>
<line x1="394.60" y1="304.30" x2="394.60" y2="338.20" stroke="#333" stroke-width="0.9" stroke-dasharray="1.6 0.9"/>
<path fill="none" stroke="#000" stroke-width="1.4" d="M381.1 336.6h1.6M385.0 336.6h0.9M387.4 336.6h0.9M389.0 336.6h0.9M390.3 336.6h0.9M391.3 336.6h0.9M392.2 336.6h0.9M392.9 336.6h0.9M393.6 336.6h0.9M394.2 336.6h1.6M398.1 336.6h0.9M400.5 336.6h0.9M402.1 336.6h0.9M403.4 336.6h0.9M404.4 336.6h0.9M405.3 336.6h0.9M406.0 336.6h0.9M406.7 336.6h0.9M407.3 336.6h1.6M411.2 336.6h0.9M413.6 336.6h0.9M415.2 336.6h0.9M416.5 336.6h0.9M417.5 336.6h0.9M418.4 336.6h0.9M419.1 336.6h0.9M419.8 336.6h0.9M420.4 336.6h1.6M424.3 336.6h0.9M426.7 336.6h0.9M428.3 336.6h0.9M429.6 336.6h0.9M430.6 336.6h0.9M431.5 336.6h0.9M432.2 336.6h0.9M432.9 336.6h0.9"/>
<text x="407.7" y="322.4" font-size="9.3" text-anchor="middle" >24</text>
<polygon fill="#000" points="434.3,337 434.3,335.4 437.4,328.7 439.6,319.8 441.8,314.2 443,316.5 444.1,322 445.2,327.6 447.4,331 449.7,332 451.9,333.2 454.1,333.6 456.4,334.3 458.6,335 460.8,335.9 462,337"/>
<rect x="434.30" y="304.30" width="52.80" height="32.90" fill="none" stroke="#666" stroke-width="1"/>
<line x1="449.00" y1="304.30" x2="449.00" y2="337.20" stroke="#333" stroke-width="0.9" stroke-dasharray="1.6 0.9"/>
<path fill="none" stroke="#000" stroke-width="1.4" d="M434.3 335.6h1.6M438.3 335.6h0.9M440.6 335.6h0.9M442.2 335.6h0.9M443.5 335.6h0.9M444.6 335.6h0.9M445.5 335.6h0.9M446.2 335.6h0.9M446.9 335.6h0.9M447.5 335.6h1.6M451.5 335.6h0.9M453.8 335.6h0.9M455.4 335.6h0.9M456.7 335.6h0.9M457.8 335.6h0.9M458.7 335.6h0.9M459.4 335.6h0.9M460.1 335.6h0.9M460.7 335.6h1.6M464.7 335.6h0.9M467.0 335.6h0.9M468.6 335.6h0.9M469.9 335.6h0.9M471.0 335.6h0.9M471.9 335.6h0.9M472.6 335.6h0.9M473.3 335.6h0.9M473.9 335.6h1.6M477.9 335.6h0.9M480.2 335.6h0.9M481.8 335.6h0.9M483.1 335.6h0.9M484.2 335.6h0.9M485.1 335.6h0.9M485.8 335.6h0.9M486.5 335.6h0.9"/>
<text x="459" y="323.09999999999997" font-size="9.3" text-anchor="middle" >7</text>
<text x="390.9" y="265" font-size="9.8" >cytosol</text>
<text x="436.9" y="264.7" font-size="9.8" >membrane</text>
<text x="491.6" y="285.6" font-size="10.5"><tspan font-size="10">Tr</tspan><tspan font-size="7.2" dy="3" stroke-width="0.15">control</tspan></text>
<text x="490.8" y="321.6" font-size="10.5"><tspan font-size="10">Tr</tspan><tspan font-size="7.2" dy="3" stroke-width="0.15">VIP</tspan></text>
<line x1="379.50" y1="341.20" x2="447.00" y2="341.20" stroke="#000" stroke-width="1" />
<path d="M446 339.6L451.6 341.2L446 342.8z"/>
<text x="380.5" y="352.3" font-size="9.1" >TGF&#946;</text>
<rect x="410.90" y="363.50" width="82.20" height="60.00" fill="none" stroke="#000" stroke-width="1"/>
<line x1="410.90" y1="390.10" x2="413.90" y2="390.10" stroke="#000" stroke-width="1" />
<text x="406.5" y="393.40000000000003" font-size="9.2" text-anchor="end" >1</text>
<text x="406.5" y="426.8" font-size="9.2" text-anchor="end" >0</text>
<rect x="416.20" y="420.83" width="8.10" height="2.67" fill="#000" stroke="#000" stroke-width="0.9"/>
<rect x="424.30" y="419.16" width="8.30" height="4.34" fill="#fff" stroke="#000" stroke-width="0.9"/>
<line x1="428.45" y1="419.16" x2="428.45" y2="418.16" stroke="#000" stroke-width="0.9" />
<line x1="426.25" y1="418.16" x2="430.65" y2="418.16" stroke="#000" stroke-width="0.9" />
<rect x="443.40" y="423.33" width="8.10" height="0.17" fill="#000" stroke="#000" stroke-width="0.9"/>
<rect x="451.50" y="421.50" width="8.10" height="2.00" fill="#fff" stroke="#000" stroke-width="0.9"/>
<rect x="470.50" y="379.41" width="8.30" height="44.09" fill="#000" stroke="#000" stroke-width="0.9"/>
<line x1="474.65" y1="379.41" x2="474.65" y2="374.74" stroke="#000" stroke-width="0.9" />
<line x1="472.45" y1="374.74" x2="476.85" y2="374.74" stroke="#000" stroke-width="0.9" />
<rect x="478.80" y="376.41" width="7.80" height="47.09" fill="#fff" stroke="#000" stroke-width="0.9"/>
<line x1="482.70" y1="376.41" x2="482.70" y2="371.06" stroke="#000" stroke-width="0.9" />
<line x1="480.50" y1="371.06" x2="484.90" y2="371.06" stroke="#000" stroke-width="0.9" />
<rect x="412.30" y="429.60" width="80.30" height="60.00" fill="none" stroke="#000" stroke-width="1"/>
<line x1="412.30" y1="458.60" x2="415.30" y2="458.60" stroke="#000" stroke-width="1" />
<text x="406.5" y="461.90000000000003" font-size="9.2" text-anchor="end" >1</text>
<text x="406.5" y="492.90000000000003" font-size="9.2" text-anchor="end" >0</text>
<rect x="417.00" y="486.81" width="8.00" height="2.79" fill="#000" stroke="#000" stroke-width="0.9"/>
<line x1="421.00" y1="486.81" x2="421.00" y2="485.57" stroke="#000" stroke-width="0.9" />
<line x1="418.80" y1="485.57" x2="423.20" y2="485.57" stroke="#000" stroke-width="0.9" />
<rect x="425.00" y="485.57" width="8.50" height="4.03" fill="#fff" stroke="#000" stroke-width="0.9"/>
<line x1="429.25" y1="485.57" x2="429.25" y2="483.71" stroke="#000" stroke-width="0.9" />
<line x1="427.05" y1="483.71" x2="431.45" y2="483.71" stroke="#000" stroke-width="0.9" />
<rect x="444.00" y="489.29" width="8.00" height="0.31" fill="#000" stroke="#000" stroke-width="0.9"/>
<rect x="452.00" y="488.98" width="8.00" height="0.62" fill="#fff" stroke="#000" stroke-width="0.9"/>
<rect x="471.20" y="444.96" width="8.00" height="44.64" fill="#000" stroke="#000" stroke-width="0.9"/>
<line x1="475.20" y1="444.96" x2="475.20" y2="440.93" stroke="#000" stroke-width="0.9" />
<line x1="473.00" y1="440.93" x2="477.40" y2="440.93" stroke="#000" stroke-width="0.9" />
<rect x="479.20" y="441.55" width="8.10" height="48.05" fill="#fff" stroke="#000" stroke-width="0.9"/>
<line x1="483.25" y1="441.55" x2="483.25" y2="435.04" stroke="#000" stroke-width="0.9" />
<line x1="481.05" y1="435.04" x2="485.45" y2="435.04" stroke="#000" stroke-width="0.9" />
<rect x="413.80" y="367.50" width="20.00" height="8.00" fill="#000"/>
<rect x="414.20" y="379.40" width="19.60" height="7.60" fill="#fff" stroke="#000" stroke-width="0.9"/>
<text x="438.8" y="375" font-size="9.6" textLength="26.6" lengthAdjust="spacingAndGlyphs" >control</text>
<text x="438.8" y="386.7" font-size="9.6" >VIP</text>
<text x="395.6" y="390.5" font-size="10.3" text-anchor="middle" transform="rotate(-90 395.6 390.5)" >Nrp1 mRNA</text>
<text x="395.6" y="459.5" font-size="10.4" text-anchor="middle" transform="rotate(-90 395.6 459.5)" >Foxp3 mRNA</text>
<text x="429.8" y="494" font-size="9.6" text-anchor="end" transform="rotate(-90 429.8 494)">CD4<tspan font-size="6" dy="-4">+</tspan></text>
<text x="452.3" y="494" font-size="9.6" text-anchor="end" transform="rotate(-90 452.3 494)">CD25<tspan font-size="6" dy="-4">-</tspan></text>
<text x="484.2" y="494" font-size="9.6" text-anchor="end" transform="rotate(-90 484.2 494)">CD25<tspan font-size="6" dy="-4">+</tspan></text></svg></body></html>
